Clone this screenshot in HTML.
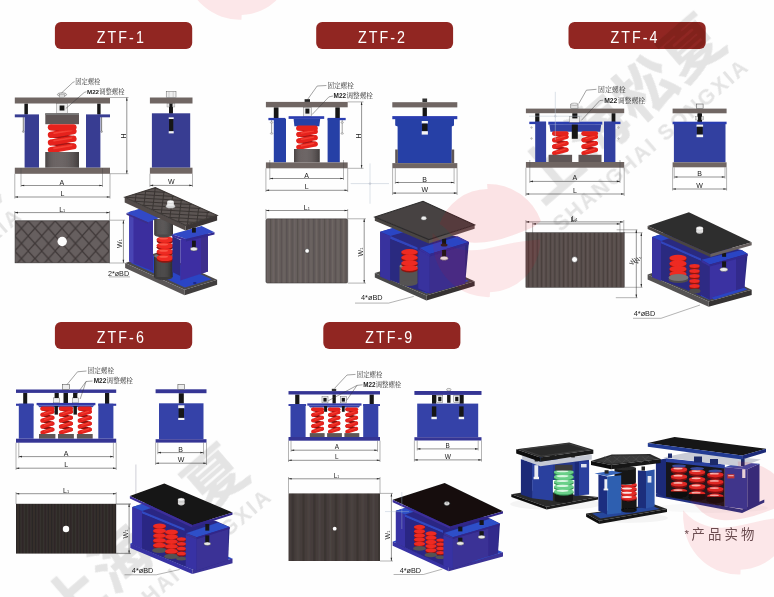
<!DOCTYPE html>
<html><head><meta charset="utf-8"><title>ZTF</title><style>html,body{margin:0;padding:0;background:#fff}svg{display:block}</style></head><body><svg width="774" height="597" viewBox="0 0 774 597" font-family="Liberation Sans, sans-serif">
<defs>
<pattern id="dia" width="13.5" height="15.1" patternUnits="userSpaceOnUse" patternTransform="translate(7.95 220.8)"><rect width="13.5" height="15.1" fill="#665e5e"/><path d="M0 7.55 L6.75 0 L13.5 7.55 L6.75 15.1 Z" fill="none" stroke="#3e3838" stroke-width="1.15"/></pattern>
<pattern id="st2" width="5.4" height="8" patternUnits="userSpaceOnUse"><rect width="5.4" height="8" fill="#665e5c"/><rect x="0" width="1.19" height="8" fill="#585150"/><rect x="2.70" width="0.97" height="8" fill="#6f6765"/></pattern>
<pattern id="st4" width="4.4" height="8" patternUnits="userSpaceOnUse"><rect width="4.4" height="8" fill="#574d4b"/><rect x="0" width="0.97" height="8" fill="#473e3c"/><rect x="2.20" width="0.79" height="8" fill="#645a58"/></pattern>
<pattern id="st6" width="3.2" height="8" patternUnits="userSpaceOnUse"><rect width="3.2" height="8" fill="#322c2a"/><rect x="0" width="0.70" height="8" fill="#2a2523"/><rect x="1.60" width="0.58" height="8" fill="#393230"/></pattern>
<pattern id="st9" width="10.8" height="8" patternUnits="userSpaceOnUse"><rect width="10.8" height="8" fill="#453d3b"/><rect x="0" width="2.38" height="8" fill="#3b3432"/><rect x="5.40" width="1.94" height="8" fill="#4c4442"/></pattern>
<mask id="lm" maskUnits="userSpaceOnUse" x="-60" y="-60" width="120" height="120"><rect x="-60" y="-60" width="120" height="120" fill="#fff"/><path d="M51 -20 C30 -6 8 -5 -2.4 -3.3 C-12 -1 -20 4 -24 9 C-14 5 -4 4 4 3.5 C22 2 40 0 52 -4 Z" fill="#000"/></mask>
<filter id="soft" x="0" y="0" width="774" height="597" filterUnits="userSpaceOnUse"><feGaussianBlur stdDeviation="0.55"/></filter>
<clipPath id="c1top"><polygon points="124.7,197.2 155.3,187.6 217.1,215.3 185.5,225.4"/></clipPath><linearGradient id="cylg" x1="0" x2="1" y1="0" y2="0"><stop offset="0" stop-color="#000" stop-opacity="0.25"/><stop offset="0.35" stop-color="#fff" stop-opacity="0.08"/><stop offset="1" stop-color="#000" stop-opacity="0.3"/></linearGradient>
</defs>
<g filter="url(#soft)">
<rect x="-5" y="-5" width="784" height="607" fill="#fefefe"/>
<rect x="54.9" y="22.1" width="137.3" height="27" rx="6" fill="#912621"/>
<text transform="translate(121.35 42.5) scale(0.85 1)" font-size="16.8" fill="#fff" text-anchor="middle" letter-spacing="2.4">ZTF-1</text>
<rect x="316.2" y="22.1" width="136.9" height="27" rx="6" fill="#912621"/>
<text transform="translate(382.45 42.5) scale(0.85 1)" font-size="16.8" fill="#fff" text-anchor="middle" letter-spacing="2.4">ZTF-2</text>
<rect x="568.5" y="22.1" width="137.2" height="27" rx="6" fill="#912621"/>
<text transform="translate(634.9 42.5) scale(0.85 1)" font-size="16.8" fill="#fff" text-anchor="middle" letter-spacing="2.4">ZTF-4</text>
<rect x="54.9" y="322.1" width="137.3" height="27" rx="6" fill="#912621"/>
<text transform="translate(121.35 342.5) scale(0.85 1)" font-size="16.8" fill="#fff" text-anchor="middle" letter-spacing="2.4">ZTF-6</text>
<rect x="323.3" y="322.1" width="137.1" height="27" rx="6" fill="#912621"/>
<text transform="translate(389.65 342.5) scale(0.85 1)" font-size="16.8" fill="#fff" text-anchor="middle" letter-spacing="2.4">ZTF-9</text>
<g style="mix-blend-mode:multiply">
<g transform="translate(563.6 229.9) rotate(-40.8)" fill="#e5e5e5">
<text x="0 62 124 186" y="-32" font-size="60" font-weight="bold" fill="#e5e5e5" stroke="#e5e5e5" stroke-width="0.6" stroke-linejoin="round" font-family="'Liberation Sans', 'Noto Sans CJK SC', sans-serif">上海松夏</text>
<text x="-4" y="0" font-size="21.5" font-weight="bold" textLength="249" lengthAdjust="spacing" fill="#e5e5e5">SHANGHAI SONGXIA</text>
</g>
<g transform="translate(86.6 659.9) rotate(-40.8)" fill="#e5e5e5">
<text x="0 62 124 186" y="-32" font-size="60" font-weight="bold" fill="#e5e5e5" stroke="#e5e5e5" stroke-width="0.6" stroke-linejoin="round" font-family="'Liberation Sans', 'Noto Sans CJK SC', sans-serif">上海松夏</text>
<text x="-4" y="0" font-size="21.5" font-weight="bold" textLength="249" lengthAdjust="spacing" fill="#e5e5e5">SHANGHAI SONGXIA</text>
</g>
<g transform="translate(-163.1 378.9) rotate(-40.8)" fill="#e5e5e5">
<text x="0 62 124 186" y="-32" font-size="60" font-weight="bold" fill="#e5e5e5" stroke="#e5e5e5" stroke-width="0.6" stroke-linejoin="round" font-family="'Liberation Sans', 'Noto Sans CJK SC', sans-serif">上海松夏</text>
<text x="-4" y="0" font-size="21.5" font-weight="bold" textLength="249" lengthAdjust="spacing" fill="#e5e5e5">SHANGHAI SONGXIA</text>
</g>
</g>
<rect x="24.4" y="103.5" width="3.5" height="11" fill="#151515" />
<rect x="97.2" y="103.5" width="3.4" height="11" fill="#151515" />
<line x1="23.3" y1="117" x2="23.3" y2="131" stroke="#444" stroke-width="0.7" />
<line x1="101.6" y1="117" x2="101.6" y2="131" stroke="#444" stroke-width="0.7" />
<circle cx="23.3" cy="131.6" r="0.9" fill="#bbb" stroke="#444" stroke-width="0.3"/>
<circle cx="101.6" cy="131.6" r="0.9" fill="#bbb" stroke="#444" stroke-width="0.3"/>
<rect x="14.8" y="114.4" width="12.2" height="2.9" fill="#383d92" />
<rect x="98.2" y="114.4" width="11.8" height="2.9" fill="#383d92" />
<rect x="24.6" y="114.4" width="14.4" height="53.3" fill="#383d92" />
<rect x="86" y="114.4" width="14.4" height="53.3" fill="#383d92" />
<rect x="56.5" y="103.5" width="11" height="9.8" fill="#eee" stroke="#666" stroke-width="0.4"/>
<rect x="59.6" y="105.5" width="4.8" height="5" fill="#151515" />
<rect x="45.3" y="113.3" width="33.7" height="10.9" fill="#5f5757" />
<rect x="45.3" y="113.3" width="33.7" height="1.7" fill="#777" />
<line x1="50.9" y1="127.3" x2="73.5" y2="131.1" stroke="#a51613" stroke-width="5.27" stroke-linecap="round"/>
<line x1="50.9" y1="134.9" x2="73.5" y2="138.7" stroke="#a51613" stroke-width="5.27" stroke-linecap="round"/>
<line x1="50.9" y1="142.5" x2="73.5" y2="146.3" stroke="#a51613" stroke-width="5.27" stroke-linecap="round"/>
<line x1="73.5" y1="131.1" x2="50.9" y2="134.9" stroke="#e6231c" stroke-width="6.2" stroke-linecap="round"/>
<line x1="71.64" y1="130.36" x2="54" y2="133.16" stroke="#ff5a4a" stroke-width="1.55" stroke-linecap="round" opacity="0.55"/>
<line x1="73.5" y1="138.7" x2="50.9" y2="142.5" stroke="#e6231c" stroke-width="6.2" stroke-linecap="round"/>
<line x1="71.64" y1="137.96" x2="54" y2="140.76" stroke="#ff5a4a" stroke-width="1.55" stroke-linecap="round" opacity="0.55"/>
<line x1="73.5" y1="146.3" x2="50.9" y2="150.1" stroke="#e6231c" stroke-width="6.2" stroke-linecap="round"/>
<line x1="71.64" y1="145.56" x2="54" y2="148.36" stroke="#ff5a4a" stroke-width="1.55" stroke-linecap="round" opacity="0.55"/>
<line x1="73.5" y1="127.3" x2="50.9" y2="127.3" stroke="#e6231c" stroke-width="6.2" stroke-linecap="round"/>
<rect x="45.3" y="152" width="33.7" height="15.7" fill="#5f5757" />
<rect x="45.3" y="152" width="33.7" height="15.7" fill="url(#cylg)"/>
<rect x="14.8" y="97.5" width="95.2" height="6" fill="#6f6664" />
<rect x="14.8" y="167.7" width="95.2" height="6.1" fill="#6f6664" />
<ellipse cx="62" cy="94.6" rx="4.6" ry="1.8" fill="#eee" stroke="#444" stroke-width="0.5"/>
<rect x="59.5" y="94.8" width="5" height="2.7" fill="#ddd" stroke="#555" stroke-width="0.3"/>
<polyline points="61.5,93 72.9,82.4 74.6,81.7" fill="none" stroke="#333" stroke-width="0.45" />
<polyline points="65.8,108.5 84.2,92.5 86.4,91.7" fill="none" stroke="#333" stroke-width="0.45" />
<text x="75.2" y="83.97" font-size="6.3" fill="#3a3a3a" font-family="'Liberation Serif', 'Noto Serif CJK SC', serif">固定螺栓</text>
<text x="87" y="93.97" font-size="6.1739999999999995" fill="#222" text-anchor="start" font-weight="bold">M22</text>
<text x="99.28" y="93.97" font-size="6.3" fill="#3a3a3a" font-family="'Liberation Serif', 'Noto Serif CJK SC', serif">调整螺栓</text>
<line x1="110" y1="97.5" x2="128.5" y2="97.5" stroke="#444" stroke-width="0.4" />
<line x1="110" y1="173.7" x2="128.5" y2="173.7" stroke="#444" stroke-width="0.4" />
<line x1="126.8" y1="97.5" x2="126.8" y2="173.7" stroke="#2a2a2a" stroke-width="0.5" />
<polygon points="126.8,97.5 126,100.7 127.6,100.7" fill="#2a2a2a" />
<polygon points="126.8,173.7 126,170.5 127.6,170.5" fill="#2a2a2a" />
<text x="125.7" y="136" font-size="7" fill="#222" text-anchor="middle" transform="rotate(-90 125.7 136)">H</text>
<line x1="21" y1="168" x2="21" y2="187" stroke="#444" stroke-width="0.4" />
<line x1="102.5" y1="168" x2="102.5" y2="187" stroke="#444" stroke-width="0.4" />
<line x1="21" y1="185.5" x2="102.5" y2="185.5" stroke="#2a2a2a" stroke-width="0.5" />
<polygon points="21,185.5 24.2,184.7 24.2,186.3" fill="#2a2a2a" />
<polygon points="102.5,185.5 99.3,184.7 99.3,186.3" fill="#2a2a2a" />
<text x="61.75" y="184.5" font-size="7" fill="#222" text-anchor="middle" >A</text>
<line x1="14.8" y1="173.8" x2="14.8" y2="198.6" stroke="#444" stroke-width="0.4" />
<line x1="110" y1="173.8" x2="110" y2="198.6" stroke="#444" stroke-width="0.4" />
<line x1="14.8" y1="197" x2="110" y2="197" stroke="#2a2a2a" stroke-width="0.5" />
<polygon points="14.8,197 18,196.2 18,197.8" fill="#2a2a2a" />
<polygon points="110,197 106.8,196.2 106.8,197.8" fill="#2a2a2a" />
<text x="62.4" y="196" font-size="7" fill="#222" text-anchor="middle" >L</text>
<line x1="14.8" y1="211" x2="14.8" y2="220.2" stroke="#444" stroke-width="0.4" />
<line x1="109.6" y1="211" x2="109.6" y2="220.2" stroke="#444" stroke-width="0.4" />
<line x1="14.8" y1="212.6" x2="109.6" y2="212.6" stroke="#2a2a2a" stroke-width="0.5" />
<polygon points="14.8,212.6 18,211.8 18,213.4" fill="#2a2a2a" />
<polygon points="109.6,212.6 106.4,211.8 106.4,213.4" fill="#2a2a2a" />
<text x="62.2" y="211.6" font-size="7" fill="#222" text-anchor="middle" >L<tspan font-size="3.8500000000000005">1</tspan></text>
<rect x="15.1" y="220.8" width="94.2" height="42" fill="url(#dia)" stroke="#3a3636" stroke-width="0.7"/>
<circle cx="62.2" cy="241.5" r="4.7" fill="#fdfdfd" />
<line x1="109.2" y1="220.2" x2="125" y2="220.2" stroke="#444" stroke-width="0.4" />
<line x1="109.2" y1="263" x2="125" y2="263" stroke="#444" stroke-width="0.4" />
<line x1="123.4" y1="220.2" x2="123.4" y2="263" stroke="#2a2a2a" stroke-width="0.5" />
<polygon points="123.4,220.2 122.6,223.4 124.2,223.4" fill="#2a2a2a" />
<polygon points="123.4,263 122.6,259.8 124.2,259.8" fill="#2a2a2a" />
<text x="122.3" y="243.5" font-size="7" fill="#222" text-anchor="middle" transform="rotate(-90 122.3 243.5)">W<tspan font-size="3.8500000000000005">1</tspan></text>
<text x="118.5" y="276" font-size="7.2" fill="#222" text-anchor="middle" >2*øBD</text>
<line x1="109" y1="276.9" x2="130" y2="276.9" stroke="#444" stroke-width="0.4" />
<rect x="169" y="103.5" width="3.9" height="10.1" fill="#151515" />
<rect x="167" y="103.8" width="7.9" height="3.2" fill="#e6e6e6" stroke="#666" stroke-width="0.3"/>
<rect x="169.4" y="103.5" width="3.1" height="10.1" fill="#151515" />
<rect x="151.9" y="113.3" width="38.3" height="54.4" fill="#383d92" />
<rect x="168.7" y="117.3" width="5" height="1.7" fill="#f4f4f4" />
<rect x="169.1" y="119" width="4.2" height="12.2" fill="#151515" />
<rect x="168.7" y="131.2" width="5" height="2.2" fill="#f4f4f4" />
<rect x="149.9" y="97.5" width="42.6" height="6" fill="#6f6664" />
<rect x="149.9" y="167.7" width="42.6" height="6" fill="#6f6664" />
<rect x="166.2" y="91.6" width="9.8" height="5.9" fill="#efefef" stroke="#555" stroke-width="0.45"/>
<line x1="169" y1="91.6" x2="169" y2="97.5" stroke="#777" stroke-width="0.3" />
<line x1="173.2" y1="91.6" x2="173.2" y2="97.5" stroke="#777" stroke-width="0.3" />
<line x1="149.9" y1="173.7" x2="149.9" y2="187" stroke="#444" stroke-width="0.4" />
<line x1="192.5" y1="173.7" x2="192.5" y2="187" stroke="#444" stroke-width="0.4" />
<line x1="149.9" y1="185.4" x2="192.5" y2="185.4" stroke="#2a2a2a" stroke-width="0.5" />
<polygon points="149.9,185.4 153.1,184.6 153.1,186.2" fill="#2a2a2a" />
<polygon points="192.5,185.4 189.3,184.6 189.3,186.2" fill="#2a2a2a" />
<text x="171.2" y="184.4" font-size="7" fill="#222" text-anchor="middle" >W</text>
<polygon points="125.1,262.9 157.5,252.5 217.1,279.7 184.7,289.7" fill="#4c4949" />
<polygon points="130.5,262.8 157.3,254.4 211.6,279.3 184.9,287.4" fill="#2a44c4" />
<polygon points="125.1,262.9 184.7,289.7 184.7,295.3 125.1,268" fill="#5a5757" />
<polygon points="184.7,289.7 217.1,279.7 217.1,284.7 184.7,295.3" fill="#403e3e" />
<polygon points="131.5,211 153,220 153,271 131.5,262.5" fill="#3a2e9e" />
<polygon points="129,212 133.5,210.6 133.5,263.4 129,261.6" fill="#4a44b4" />
<polygon points="126.5,213 140,208.5 160.5,217.5 148,222.3" fill="#304ac6" />
<polygon points="126.5,213 148,222.3 148,224 126.5,214.7" fill="#3c2f8a" />
<rect x="154" y="255" width="18.6" height="22" fill="#3c3a3a" />
<ellipse cx="163.3" cy="277" rx="9.3" ry="3" fill="#3c3a3a" />
<rect x="154" y="255" width="18.6" height="22" fill="url(#cylg)"/>
<ellipse cx="163.3" cy="256" rx="9.3" ry="2.6" fill="#777474" />
<ellipse cx="165" cy="241.1" rx="8.4" ry="3.3" fill="#8e1410" />
<ellipse cx="165" cy="239.5" rx="8.4" ry="3.3" fill="#ee2a20" />
<ellipse cx="163.5" cy="238.5" rx="4.5" ry="1" fill="#ff6a58" opacity="0.7"/>
<ellipse cx="165" cy="247.2" rx="8.4" ry="3.3" fill="#8e1410" />
<ellipse cx="165" cy="245.6" rx="8.4" ry="3.3" fill="#ee2a20" />
<ellipse cx="163.5" cy="244.6" rx="4.5" ry="1" fill="#ff6a58" opacity="0.7"/>
<ellipse cx="165" cy="253.3" rx="8.4" ry="3.3" fill="#8e1410" />
<ellipse cx="165" cy="251.7" rx="8.4" ry="3.3" fill="#ee2a20" />
<ellipse cx="163.5" cy="250.7" rx="4.5" ry="1" fill="#ff6a58" opacity="0.7"/>
<ellipse cx="165" cy="259.4" rx="8.4" ry="3.3" fill="#8e1410" />
<ellipse cx="165" cy="257.8" rx="8.4" ry="3.3" fill="#ee2a20" />
<ellipse cx="163.5" cy="256.8" rx="4.5" ry="1" fill="#ff6a58" opacity="0.7"/>
<rect x="154.2" y="219" width="18.8" height="15.5" fill="#4b4848" />
<ellipse cx="163.6" cy="234.5" rx="9.4" ry="3" fill="#4b4848" />
<rect x="154.2" y="219" width="18.8" height="15.5" fill="url(#cylg)"/>
<polygon points="172.4,236 180.3,240 180.3,276 172.4,272" fill="#2f2a84" />
<polygon points="180.3,240 208,231.5 208,271.5 180.3,280.5" fill="#3c2fa2" />
<polygon points="201,233.6 208,231.5 208,271.5 201,273.8" fill="#3d2d8c" />
<polygon points="171.9,234.3 201.6,225.9 214.5,232.3 186.1,239.1" fill="#304ac6" />
<polygon points="171.9,234.3 186.1,239.1 186.1,241.4 171.9,236.6" fill="#3a2e9e" />
<polygon points="186.1,239.1 214.5,232.3 214.5,234.5 186.1,241.4" fill="#33298f" />
<line x1="193.9" y1="227.4" x2="193.9" y2="232.6" stroke="#151515" stroke-width="3.8" />
<line x1="193.9" y1="240.6" x2="193.9" y2="247.6" stroke="#151515" stroke-width="3.8" />
<ellipse cx="193.9" cy="249" rx="3.6" ry="1.9" fill="#ececec" stroke="#333" stroke-width="0.4"/>
<ellipse cx="194.8" cy="283" rx="1.8" ry="0.9" fill="#1a2a8a" />
<polygon points="124.7,197.2 155.3,187.6 217.1,215.3 185.5,225.4" fill="#5c5553" />
<polygon points="124.7,197.2 185.5,225.4 185.5,230.6 124.7,202.6" fill="#524c4a" />
<polygon points="185.5,225.4 217.1,215.3 217.1,220.4 185.5,230.6" fill="#3a3634" />
<g clip-path="url(#c1top)">
<line x1="89.96" y1="181.09" x2="148.35" y2="184.38" stroke="#3a3533" stroke-width="1.0"/>
<line x1="120.56" y1="171.49" x2="117.75" y2="193.98" stroke="#3a3533" stroke-width="1.0"/>
<line x1="98.64" y1="185.11" x2="157.04" y2="188.41" stroke="#3a3533" stroke-width="1.0"/>
<line x1="129.24" y1="175.51" x2="126.44" y2="198.01" stroke="#3a3533" stroke-width="1.0"/>
<line x1="107.33" y1="189.14" x2="165.72" y2="192.43" stroke="#3a3533" stroke-width="1.0"/>
<line x1="137.93" y1="179.54" x2="135.12" y2="202.03" stroke="#3a3533" stroke-width="1.0"/>
<line x1="116.01" y1="193.17" x2="174.41" y2="196.46" stroke="#3a3533" stroke-width="1.0"/>
<line x1="146.61" y1="183.57" x2="143.81" y2="206.06" stroke="#3a3533" stroke-width="1.0"/>
<line x1="124.7" y1="197.2" x2="183.09" y2="200.49" stroke="#3a3533" stroke-width="1.0"/>
<line x1="155.3" y1="187.6" x2="152.49" y2="210.09" stroke="#3a3533" stroke-width="1.0"/>
<line x1="133.39" y1="201.23" x2="191.78" y2="204.52" stroke="#3a3533" stroke-width="1.0"/>
<line x1="163.99" y1="191.63" x2="161.18" y2="214.12" stroke="#3a3533" stroke-width="1.0"/>
<line x1="142.07" y1="205.26" x2="200.47" y2="208.55" stroke="#3a3533" stroke-width="1.0"/>
<line x1="172.67" y1="195.66" x2="169.87" y2="218.15" stroke="#3a3533" stroke-width="1.0"/>
<line x1="150.76" y1="209.29" x2="209.15" y2="212.58" stroke="#3a3533" stroke-width="1.0"/>
<line x1="181.36" y1="199.69" x2="178.55" y2="222.18" stroke="#3a3533" stroke-width="1.0"/>
<line x1="159.44" y1="213.31" x2="217.84" y2="216.61" stroke="#3a3533" stroke-width="1.0"/>
<line x1="190.04" y1="203.71" x2="187.24" y2="226.21" stroke="#3a3533" stroke-width="1.0"/>
<line x1="168.13" y1="217.34" x2="226.52" y2="220.63" stroke="#3a3533" stroke-width="1.0"/>
<line x1="198.73" y1="207.74" x2="195.92" y2="230.23" stroke="#3a3533" stroke-width="1.0"/>
<line x1="176.81" y1="221.37" x2="235.21" y2="224.66" stroke="#3a3533" stroke-width="1.0"/>
<line x1="207.41" y1="211.77" x2="204.61" y2="234.26" stroke="#3a3533" stroke-width="1.0"/>
<line x1="185.5" y1="225.4" x2="243.89" y2="228.69" stroke="#3a3533" stroke-width="1.0"/>
<line x1="216.1" y1="215.8" x2="213.29" y2="238.29" stroke="#3a3533" stroke-width="1.0"/>
</g>
<polygon points="124.7,197.2 155.3,187.6 217.1,215.3 185.5,225.4" fill="none" stroke="#3f3a38" stroke-width="1.2"/>
<ellipse cx="170.5" cy="206.2" rx="4.6" ry="2.1" fill="#d8d8d8" stroke="#777" stroke-width="0.3"/>
<rect x="167.2" y="201.8" width="6.6" height="4" fill="#ececec" />
<ellipse cx="170.5" cy="201.8" rx="3.3" ry="1.6" fill="#f8f8f8" stroke="#999" stroke-width="0.3"/>
<rect x="273.8" y="107.3" width="4.7" height="11.2" fill="#151515" />
<rect x="335.3" y="107.3" width="4.5" height="11.2" fill="#151515" />
<line x1="271.6" y1="120" x2="271.6" y2="134" stroke="#666" stroke-width="0.6" />
<ellipse cx="271.6" cy="122.5" rx="1.3" ry="0.8" fill="#ddd" stroke="#555" stroke-width="0.3"/>
<ellipse cx="271.6" cy="133.5" rx="1.3" ry="0.8" fill="#ddd" stroke="#555" stroke-width="0.3"/>
<line x1="342.2" y1="120" x2="342.2" y2="134" stroke="#666" stroke-width="0.6" />
<ellipse cx="342.2" cy="122.5" rx="1.3" ry="0.8" fill="#ddd" stroke="#555" stroke-width="0.3"/>
<ellipse cx="342.2" cy="133.5" rx="1.3" ry="0.8" fill="#ddd" stroke="#555" stroke-width="0.3"/>
<rect x="268.4" y="117.9" width="16.8" height="2.3" fill="#2c3cb0" />
<rect x="327.6" y="117.9" width="18.1" height="2.3" fill="#2c3cb0" />
<rect x="273.8" y="118.7" width="12.2" height="43.7" fill="#2840a6" />
<rect x="327.6" y="118.7" width="12.2" height="43.7" fill="#2840a6" />
<rect x="303.2" y="107.3" width="8.4" height="8.9" fill="#eee" stroke="#666" stroke-width="0.4"/>
<rect x="305.4" y="108.6" width="4" height="5" fill="#151515" />
<rect x="288.6" y="116.2" width="35.6" height="2.7" fill="#2c3cb0" />
<polygon points="293.6,118.7 320.2,118.7 319.3,126.3 294.4,126.3" fill="#2840a6" />
<line x1="298.8" y1="128.2" x2="315.2" y2="131.37" stroke="#a51613" stroke-width="4.42" stroke-linecap="round"/>
<line x1="298.8" y1="134.53" x2="315.2" y2="137.7" stroke="#a51613" stroke-width="4.42" stroke-linecap="round"/>
<line x1="298.8" y1="140.87" x2="315.2" y2="144.03" stroke="#a51613" stroke-width="4.42" stroke-linecap="round"/>
<line x1="315.2" y1="131.37" x2="298.8" y2="134.53" stroke="#e6231c" stroke-width="5.2" stroke-linecap="round"/>
<line x1="313.64" y1="130.74" x2="301.4" y2="133.08" stroke="#ff5a4a" stroke-width="1.3" stroke-linecap="round" opacity="0.55"/>
<line x1="315.2" y1="137.7" x2="298.8" y2="140.87" stroke="#e6231c" stroke-width="5.2" stroke-linecap="round"/>
<line x1="313.64" y1="137.08" x2="301.4" y2="139.41" stroke="#ff5a4a" stroke-width="1.3" stroke-linecap="round" opacity="0.55"/>
<line x1="315.2" y1="144.03" x2="298.8" y2="147.2" stroke="#e6231c" stroke-width="5.2" stroke-linecap="round"/>
<line x1="313.64" y1="143.41" x2="301.4" y2="145.74" stroke="#ff5a4a" stroke-width="1.3" stroke-linecap="round" opacity="0.55"/>
<line x1="315.2" y1="128.2" x2="298.8" y2="128.2" stroke="#e6231c" stroke-width="5.2" stroke-linecap="round"/>
<rect x="294" y="149" width="25.7" height="13.4" fill="#5f5757" />
<rect x="294" y="149" width="25.7" height="13.4" fill="url(#cylg)"/>
<rect x="265.9" y="101.9" width="81.8" height="5.4" fill="#6f6664" />
<rect x="265.9" y="162.4" width="81.8" height="5.9" fill="#6f6664" />
<rect x="304.6" y="99.2" width="5.4" height="2.7" fill="#222" />
<polyline points="307.2,100 317.2,86 326.4,85.5" fill="none" stroke="#333" stroke-width="0.45" />
<polyline points="312.1,114.5 328.9,96.9 333,96" fill="none" stroke="#333" stroke-width="0.45" />
<text x="327.4" y="87.88" font-size="6.6" fill="#3a3a3a" font-family="'Liberation Serif', 'Noto Serif CJK SC', serif">固定螺栓</text>
<text x="333.6" y="98.38" font-size="6.468" fill="#222" text-anchor="start" font-weight="bold">M22</text>
<text x="346.47" y="98.38" font-size="6.6" fill="#3a3a3a" font-family="'Liberation Serif', 'Noto Serif CJK SC', serif">调整螺栓</text>
<line x1="347.7" y1="101.9" x2="363.5" y2="101.9" stroke="#444" stroke-width="0.4" />
<line x1="347.7" y1="168.3" x2="363.5" y2="168.3" stroke="#444" stroke-width="0.4" />
<line x1="361.6" y1="101.9" x2="361.6" y2="168.3" stroke="#2a2a2a" stroke-width="0.5" />
<polygon points="361.6,101.9 360.8,105.1 362.4,105.1" fill="#2a2a2a" />
<polygon points="361.6,168.3 360.8,165.1 362.4,165.1" fill="#2a2a2a" />
<text x="360.5" y="136" font-size="7" fill="#222" text-anchor="middle" transform="rotate(-90 360.5 136)">H</text>
<line x1="269.8" y1="160" x2="269.8" y2="180" stroke="#444" stroke-width="0.4" />
<line x1="343.5" y1="160" x2="343.5" y2="180" stroke="#444" stroke-width="0.4" />
<line x1="269.8" y1="178.5" x2="343.5" y2="178.5" stroke="#2a2a2a" stroke-width="0.5" />
<polygon points="269.8,178.5 273,177.7 273,179.3" fill="#2a2a2a" />
<polygon points="343.5,178.5 340.3,177.7 340.3,179.3" fill="#2a2a2a" />
<text x="306.65" y="177.5" font-size="7" fill="#222" text-anchor="middle" >A</text>
<line x1="265.9" y1="168.3" x2="265.9" y2="192" stroke="#444" stroke-width="0.4" />
<line x1="347.7" y1="168.3" x2="347.7" y2="192" stroke="#444" stroke-width="0.4" />
<line x1="265.9" y1="190.3" x2="347.7" y2="190.3" stroke="#2a2a2a" stroke-width="0.5" />
<polygon points="265.9,190.3 269.1,189.5 269.1,191.1" fill="#2a2a2a" />
<polygon points="347.7,190.3 344.5,189.5 344.5,191.1" fill="#2a2a2a" />
<text x="306.8" y="189.3" font-size="7" fill="#222" text-anchor="middle" >L</text>
<line x1="370" y1="163.4" x2="370" y2="203.7" stroke="#b8c4d0" stroke-width="0.5" />
<line x1="350.7" y1="183.6" x2="389" y2="183.6" stroke="#b8c4d0" stroke-width="0.5" />
<circle cx="370" cy="183.6" r="0.9" fill="none" stroke="#99a" stroke-width="0.3"/>
<line x1="265.9" y1="209" x2="265.9" y2="219" stroke="#444" stroke-width="0.4" />
<line x1="347.7" y1="209" x2="347.7" y2="219" stroke="#444" stroke-width="0.4" />
<line x1="265.9" y1="210.5" x2="347.7" y2="210.5" stroke="#2a2a2a" stroke-width="0.5" />
<polygon points="265.9,210.5 269.1,209.7 269.1,211.3" fill="#2a2a2a" />
<polygon points="347.7,210.5 344.5,209.7 344.5,211.3" fill="#2a2a2a" />
<text x="306.8" y="209.5" font-size="7" fill="#222" text-anchor="middle" >L<tspan font-size="3.8500000000000005">1</tspan></text>
<rect x="265.9" y="218.8" width="81.8" height="64.3" rx="1.6" fill="url(#st2)" stroke="#353333" stroke-width="0.5"/>
<circle cx="307.1" cy="250.9" r="2.3" fill="#fdfdfd" stroke="#2a2828" stroke-width="0.6"/>
<line x1="347.7" y1="218.8" x2="366" y2="218.8" stroke="#444" stroke-width="0.4" />
<line x1="347.7" y1="283.1" x2="366" y2="283.1" stroke="#444" stroke-width="0.4" />
<line x1="364.2" y1="218.8" x2="364.2" y2="283.1" stroke="#2a2a2a" stroke-width="0.5" />
<polygon points="364.2,218.8 363.4,222 365,222" fill="#2a2a2a" />
<polygon points="364.2,283.1 363.4,279.9 365,279.9" fill="#2a2a2a" />
<text x="363.1" y="252" font-size="7" fill="#222" text-anchor="middle" transform="rotate(-90 363.1 252)">W<tspan font-size="3.8500000000000005">1</tspan></text>
<rect x="422.4" y="98.5" width="4.7" height="3.7" fill="#333" />
<rect x="422.6" y="107.4" width="4.3" height="9.6" fill="#151515" />
<rect x="392.3" y="116.1" width="65" height="3.1" fill="#2c3cb0" />
<polygon points="395.2,119 454,119 454,125.5 451.8,126.5 451.8,163.1 397.6,163.1 397.6,126.5 395.2,125.5" fill="#2840a6" />
<rect x="395.2" y="149.5" width="2.6" height="13.6" fill="#5f5757" />
<rect x="451.6" y="149.5" width="2.6" height="13.6" fill="#5f5757" />
<rect x="421.7" y="121" width="6.2" height="2.6" fill="#f4f4f4" />
<rect x="422.1" y="123.6" width="5.4" height="7.6" fill="#151515" />
<rect x="421.7" y="131.2" width="6.2" height="3.4" fill="#f4f4f4" />
<rect x="392.3" y="102.2" width="65" height="5.2" fill="#6f6664" />
<rect x="392.3" y="163.1" width="65" height="5.1" fill="#6f6664" />
<line x1="395.3" y1="168.2" x2="395.3" y2="184" stroke="#444" stroke-width="0.4" />
<line x1="454.1" y1="168.2" x2="454.1" y2="184" stroke="#444" stroke-width="0.4" />
<line x1="395.3" y1="182.5" x2="454.1" y2="182.5" stroke="#2a2a2a" stroke-width="0.5" />
<polygon points="395.3,182.5 398.5,181.7 398.5,183.3" fill="#2a2a2a" />
<polygon points="454.1,182.5 450.9,181.7 450.9,183.3" fill="#2a2a2a" />
<text x="424.7" y="181.5" font-size="7" fill="#222" text-anchor="middle" >B</text>
<line x1="392.6" y1="168.2" x2="392.6" y2="195" stroke="#444" stroke-width="0.4" />
<line x1="457.1" y1="168.2" x2="457.1" y2="195" stroke="#444" stroke-width="0.4" />
<line x1="392.6" y1="193.1" x2="457.1" y2="193.1" stroke="#2a2a2a" stroke-width="0.5" />
<polygon points="392.6,193.1 395.8,192.3 395.8,193.9" fill="#2a2a2a" />
<polygon points="457.1,193.1 453.9,192.3 453.9,193.9" fill="#2a2a2a" />
<text x="424.85" y="192.1" font-size="7" fill="#222" text-anchor="middle" >W</text>
<polygon points="374.8,272.9 423.5,258 474.6,281.3 426.4,295.6" fill="#4a4848" />
<polygon points="380.4,272.8 423.3,259.8 469,281 426.6,293.4" fill="#2a44c4" />
<polygon points="374.8,272.9 426.4,295.6 426.4,300.4 374.8,277.6" fill="#4a4848" />
<polygon points="426.4,295.6 474.6,281.3 474.6,286 426.4,300.4" fill="#353333" />
<polygon points="380.2,231.8 398,226.5 457.9,236.5 468.9,242 465.2,283.5 429.8,293.5 417.5,290 380.2,276.5" fill="#2c2a80" />
<polygon points="380.2,231.8 390.3,236 390.3,281 380.2,276.5" fill="#38309e" />
<polygon points="380.2,231.8 398,226.5 408,231 390.3,236" fill="#2b45c4" />
<polygon points="390.3,236 417.5,247.5 417.5,250 390.3,239" fill="#3044bc" />
<polygon points="390.3,239 417.5,250 417.5,290 390.3,279" fill="#2c2a80" />
<rect x="399.5" y="266" width="18" height="17" fill="#555252" />
<ellipse cx="408.5" cy="283" rx="9" ry="3" fill="#555252" />
<ellipse cx="408.5" cy="266" rx="9" ry="3" fill="#8a8787" />
<ellipse cx="409.5" cy="253.5" rx="8.3" ry="3" fill="#8e1410" />
<ellipse cx="409.5" cy="252" rx="8.3" ry="3" fill="#ee2a20" />
<ellipse cx="409.5" cy="259" rx="8.3" ry="3" fill="#8e1410" />
<ellipse cx="409.5" cy="257.5" rx="8.3" ry="3" fill="#ee2a20" />
<ellipse cx="409.5" cy="264.5" rx="8.3" ry="3" fill="#8e1410" />
<ellipse cx="409.5" cy="263" rx="8.3" ry="3" fill="#ee2a20" />
<ellipse cx="409.5" cy="269.5" rx="8.3" ry="3" fill="#8e1410" />
<ellipse cx="409.5" cy="268" rx="8.3" ry="3" fill="#ee2a20" />
<polygon points="418.3,249.5 429.8,255.5 429.8,293.5 418.3,288.5" fill="#38309e" />
<polygon points="429.8,255.5 465.2,244.6 465.2,283.5 429.8,293.5" fill="#3a2f8e" />
<polygon points="419.7,248 457.9,236.5 468.9,242 429.8,254" fill="#2b45c4" />
<polygon points="419.7,248 429.8,254 429.8,256.4 419.7,250.3" fill="#38309e" />
<polygon points="429.8,254 468.9,242 468.9,244.3 429.8,256.4" fill="#33298f" />
<line x1="444.1" y1="238.6" x2="444.1" y2="244.8" stroke="#151515" stroke-width="4" />
<ellipse cx="444.1" cy="245" rx="3.4" ry="1.5" fill="#2a2320" />
<line x1="444.1" y1="250" x2="444.1" y2="256.4" stroke="#151515" stroke-width="4" />
<ellipse cx="444.1" cy="258.2" rx="4" ry="2" fill="#ececec" stroke="#333" stroke-width="0.4"/>
<polygon points="374.8,217 423,201.3 474.6,225 428.9,239.6" fill="#464343" />
<polygon points="374.8,217 428.9,239.6 428.9,243.4 374.8,220.8" fill="#4a4543" />
<polygon points="428.9,239.6 474.6,225 474.6,228.8 428.9,243.4" fill="#5d5654" />
<polygon points="374.8,217 423,201.3 474.6,225 428.9,239.6" fill="none" stroke="#2e2c2c" stroke-width="1.1"/>
<ellipse cx="423.8" cy="218.2" rx="2.6" ry="1.9" fill="#eee" stroke="#888" stroke-width="0.4"/>
<text x="371.8" y="300.3" font-size="7.3" fill="#222" text-anchor="middle" >4*øBD</text>
<polyline points="355,303.1 388.6,303.1 413.8,296.4" fill="none" stroke="#444" stroke-width="0.4" />
<rect x="535.2" y="113.2" width="4.2" height="9" fill="#151515" />
<rect x="611.6" y="113.2" width="3.8" height="9" fill="#151515" />
<circle cx="531.5" cy="127.5" r="0.8" fill="#ddd" stroke="#555" stroke-width="0.3"/>
<circle cx="531.5" cy="138.5" r="0.8" fill="#ddd" stroke="#555" stroke-width="0.3"/>
<circle cx="618.5" cy="127.5" r="0.8" fill="#ddd" stroke="#555" stroke-width="0.3"/>
<circle cx="618.5" cy="138.5" r="0.8" fill="#ddd" stroke="#555" stroke-width="0.3"/>
<rect x="529.3" y="121.7" width="16.7" height="2.4" fill="#2c3cb0" />
<rect x="604" y="121.7" width="16.5" height="2.4" fill="#2c3cb0" />
<rect x="535.2" y="121.7" width="10.9" height="40.3" fill="#3040a0" />
<rect x="604" y="121.7" width="11.4" height="40.3" fill="#3040a0" />
<rect x="548.3" y="121.7" width="54" height="2.9" fill="#2c3cb0" />
<polygon points="549.4,124.6 601.2,124.6 600.2,131.8 550.4,131.8" fill="#3040a0" />
<line x1="554.3" y1="133.5" x2="566.4" y2="136.77" stroke="#a51613" stroke-width="3.9099999999999997" stroke-linecap="round"/>
<line x1="554.3" y1="140.03" x2="566.4" y2="143.3" stroke="#a51613" stroke-width="3.9099999999999997" stroke-linecap="round"/>
<line x1="554.3" y1="146.57" x2="566.4" y2="149.83" stroke="#a51613" stroke-width="3.9099999999999997" stroke-linecap="round"/>
<line x1="566.4" y1="136.77" x2="554.3" y2="140.03" stroke="#e6231c" stroke-width="4.6" stroke-linecap="round"/>
<line x1="565.02" y1="136.21" x2="556.6" y2="138.75" stroke="#ff5a4a" stroke-width="1.15" stroke-linecap="round" opacity="0.55"/>
<line x1="566.4" y1="143.3" x2="554.3" y2="146.57" stroke="#e6231c" stroke-width="4.6" stroke-linecap="round"/>
<line x1="565.02" y1="142.75" x2="556.6" y2="145.28" stroke="#ff5a4a" stroke-width="1.15" stroke-linecap="round" opacity="0.55"/>
<line x1="566.4" y1="149.83" x2="554.3" y2="153.1" stroke="#e6231c" stroke-width="4.6" stroke-linecap="round"/>
<line x1="565.02" y1="149.28" x2="556.6" y2="151.81" stroke="#ff5a4a" stroke-width="1.15" stroke-linecap="round" opacity="0.55"/>
<line x1="566.4" y1="133.5" x2="554.3" y2="133.5" stroke="#e6231c" stroke-width="4.6" stroke-linecap="round"/>
<line x1="583.6" y1="133.5" x2="595.8" y2="136.77" stroke="#a51613" stroke-width="3.9099999999999997" stroke-linecap="round"/>
<line x1="583.6" y1="140.03" x2="595.8" y2="143.3" stroke="#a51613" stroke-width="3.9099999999999997" stroke-linecap="round"/>
<line x1="583.6" y1="146.57" x2="595.8" y2="149.83" stroke="#a51613" stroke-width="3.9099999999999997" stroke-linecap="round"/>
<line x1="595.8" y1="136.77" x2="583.6" y2="140.03" stroke="#e6231c" stroke-width="4.6" stroke-linecap="round"/>
<line x1="594.42" y1="136.21" x2="585.9" y2="138.75" stroke="#ff5a4a" stroke-width="1.15" stroke-linecap="round" opacity="0.55"/>
<line x1="595.8" y1="143.3" x2="583.6" y2="146.57" stroke="#e6231c" stroke-width="4.6" stroke-linecap="round"/>
<line x1="594.42" y1="142.75" x2="585.9" y2="145.28" stroke="#ff5a4a" stroke-width="1.15" stroke-linecap="round" opacity="0.55"/>
<line x1="595.8" y1="149.83" x2="583.6" y2="153.1" stroke="#e6231c" stroke-width="4.6" stroke-linecap="round"/>
<line x1="594.42" y1="149.28" x2="585.9" y2="151.81" stroke="#ff5a4a" stroke-width="1.15" stroke-linecap="round" opacity="0.55"/>
<line x1="595.8" y1="133.5" x2="583.6" y2="133.5" stroke="#e6231c" stroke-width="4.6" stroke-linecap="round"/>
<rect x="548.6" y="154.8" width="23.5" height="7.2" fill="#5f5757" />
<rect x="578.5" y="154.8" width="23" height="7.2" fill="#5f5757" />
<rect x="569.8" y="116.4" width="9.4" height="5.8" fill="#eee" stroke="#777" stroke-width="0.4"/>
<rect x="572.3" y="113.2" width="5.1" height="5.2" fill="#151515" />
<rect x="571.8" y="124.6" width="6" height="14.2" fill="#151515" />
<rect x="525.9" y="108.6" width="98.3" height="4.6" fill="#6f6664" />
<rect x="525.9" y="162" width="98.3" height="5.7" fill="#6f6664" />
<rect x="570.8" y="104.2" width="7.2" height="4.4" fill="#e4e4e4" stroke="#555" stroke-width="0.5"/>
<ellipse cx="574.4" cy="104.2" rx="3.6" ry="1.1" fill="#f4f4f4" stroke="#555" stroke-width="0.4"/>
<line x1="555.3" y1="91.8" x2="555.3" y2="140" stroke="#b8c4d0" stroke-width="0.5" />
<line x1="529" y1="116.2" x2="582" y2="116.2" stroke="#b8c4d0" stroke-width="0.5" />
<circle cx="555.3" cy="116.2" r="0.9" fill="none" stroke="#99a" stroke-width="0.3"/>
<polyline points="578.8,103.6 586.4,90.2 596.5,89.3" fill="none" stroke="#333" stroke-width="0.45" />
<polyline points="581.3,120.4 599.8,100.6 603.2,100.2" fill="none" stroke="#333" stroke-width="0.45" />
<text x="598.1" y="91.78" font-size="6.9" fill="#3a3a3a" font-family="'Liberation Serif', 'Noto Serif CJK SC', serif">固定螺栓</text>
<text x="604.2" y="102.68" font-size="6.7620000000000005" fill="#222" text-anchor="start" font-weight="bold">M22</text>
<text x="617.66" y="102.68" font-size="6.9" fill="#3a3a3a" font-family="'Liberation Serif', 'Noto Serif CJK SC', serif">调整螺栓</text>
<line x1="529.8" y1="160" x2="529.8" y2="183" stroke="#444" stroke-width="0.4" />
<line x1="620" y1="160" x2="620" y2="183" stroke="#444" stroke-width="0.4" />
<line x1="529.8" y1="181.4" x2="620" y2="181.4" stroke="#2a2a2a" stroke-width="0.5" />
<polygon points="529.8,181.4 533,180.6 533,182.2" fill="#2a2a2a" />
<polygon points="620,181.4 616.8,180.6 616.8,182.2" fill="#2a2a2a" />
<text x="574.9" y="180.4" font-size="7" fill="#222" text-anchor="middle" >A</text>
<line x1="525.9" y1="167.7" x2="525.9" y2="196" stroke="#444" stroke-width="0.4" />
<line x1="624.2" y1="167.7" x2="624.2" y2="196" stroke="#444" stroke-width="0.4" />
<line x1="525.9" y1="194" x2="624.2" y2="194" stroke="#2a2a2a" stroke-width="0.5" />
<polygon points="525.9,194 529.1,193.2 529.1,194.8" fill="#2a2a2a" />
<polygon points="624.2,194 621,193.2 621,194.8" fill="#2a2a2a" />
<text x="575.05" y="193" font-size="7" fill="#222" text-anchor="middle" >L</text>
<line x1="525.9" y1="220" x2="525.9" y2="233" stroke="#444" stroke-width="0.4" />
<line x1="623.8" y1="220" x2="623.8" y2="233" stroke="#444" stroke-width="0.4" />
<line x1="525.9" y1="221.9" x2="623.3" y2="221.9" stroke="#2a2a2a" stroke-width="0.5" />
<polygon points="525.9,221.9 529.1,221.1 529.1,222.7" fill="#2a2a2a" />
<polygon points="623.3,221.9 620.1,221.1 620.1,222.7" fill="#2a2a2a" />
<text x="574.6" y="220.9" font-size="7" fill="#222" text-anchor="middle" >L<tspan font-size="3.8500000000000005">1</tspan></text>
<line x1="532.6" y1="222.5" x2="532.6" y2="233" stroke="#444" stroke-width="0.4" />
<line x1="620" y1="222.5" x2="620" y2="233" stroke="#444" stroke-width="0.4" />
<line x1="532.6" y1="223.9" x2="620" y2="223.9" stroke="#2a2a2a" stroke-width="0.5" />
<polygon points="532.6,223.9 535.8,223.1 535.8,224.7" fill="#2a2a2a" />
<polygon points="620,223.9 616.8,223.1 616.8,224.7" fill="#2a2a2a" />
<text x="573.5" y="221.8" font-size="6.5" fill="#222" text-anchor="middle" >L<tspan font-size="3.6">1</tspan></text>
<rect x="525.9" y="232.7" width="98.3" height="54.6" fill="url(#st4)" stroke="#2f2c2c" stroke-width="0.5"/>
<circle cx="574.6" cy="259.5" r="2.9" fill="#fdfdfd" stroke="#222" stroke-width="0.5"/>
<line x1="616.6" y1="229.8" x2="637.5" y2="229.8" stroke="#444" stroke-width="0.4" />
<line x1="624.2" y1="232.7" x2="642.5" y2="232.7" stroke="#444" stroke-width="0.4" />
<line x1="624.2" y1="287.3" x2="642.5" y2="287.3" stroke="#444" stroke-width="0.4" />
<line x1="615.8" y1="297.7" x2="637.5" y2="297.7" stroke="#444" stroke-width="0.4" />
<line x1="636.3" y1="229.8" x2="636.3" y2="297.7" stroke="#2a2a2a" stroke-width="0.5" />
<polygon points="636.3,229.8 635.5,233 637.1,233" fill="#2a2a2a" />
<polygon points="636.3,297.7 635.5,294.5 637.1,294.5" fill="#2a2a2a" />
<line x1="641.3" y1="232.7" x2="641.3" y2="287.3" stroke="#2a2a2a" stroke-width="0.5" />
<polygon points="641.3,232.7 640.5,235.9 642.1,235.9" fill="#2a2a2a" />
<polygon points="641.3,287.3 640.5,284.1 642.1,284.1" fill="#2a2a2a" />
<text x="634.6" y="262" font-size="6.3" fill="#222" text-anchor="middle" transform="rotate(-60 634.6 262)">W<tspan font-size="3.4650000000000003">1</tspan></text>
<text x="639.5" y="261" font-size="6.3" fill="#222" text-anchor="middle" transform="rotate(-60 639.5 261)">W<tspan font-size="3.4650000000000003">1</tspan></text>
<rect x="697.4" y="113.3" width="4.6" height="8.7" fill="#151515" />
<rect x="695.8" y="116.6" width="7.8" height="3.4" fill="#ddd" stroke="#555" stroke-width="0.3"/>
<rect x="698" y="113.3" width="3.4" height="8.7" fill="#151515" />
<rect x="672.6" y="121.7" width="54" height="2.5" fill="#2c3cb0" />
<rect x="673.9" y="124" width="51.6" height="38.3" fill="#3040a0" />
<rect x="696.5" y="124.6" width="6.6" height="2.2" fill="#f4f4f4" />
<rect x="696.9" y="126.8" width="5.8" height="7.8" fill="#151515" />
<rect x="696.5" y="134.6" width="6.6" height="2.6" fill="#f4f4f4" />
<rect x="672.6" y="108.6" width="54" height="4.7" fill="#6f6664" />
<rect x="672.6" y="162.3" width="54" height="5" fill="#6f6664" />
<rect x="696.4" y="104" width="6.7" height="4.6" fill="#ededed" stroke="#444" stroke-width="0.5"/>
<line x1="674.2" y1="167.3" x2="674.2" y2="178.6" stroke="#444" stroke-width="0.4" />
<line x1="725" y1="167.3" x2="725" y2="178.6" stroke="#444" stroke-width="0.4" />
<line x1="674.2" y1="177" x2="725" y2="177" stroke="#2a2a2a" stroke-width="0.5" />
<polygon points="674.2,177 677.4,176.2 677.4,177.8" fill="#2a2a2a" />
<polygon points="725,177 721.8,176.2 721.8,177.8" fill="#2a2a2a" />
<text x="699.6" y="176" font-size="7" fill="#222" text-anchor="middle" >B</text>
<line x1="672.6" y1="167.3" x2="672.6" y2="190.6" stroke="#444" stroke-width="0.4" />
<line x1="726.6" y1="167.3" x2="726.6" y2="190.6" stroke="#444" stroke-width="0.4" />
<line x1="672.6" y1="189" x2="726.6" y2="189" stroke="#2a2a2a" stroke-width="0.5" />
<polygon points="672.6,189 675.8,188.2 675.8,189.8" fill="#2a2a2a" />
<polygon points="726.6,189 723.4,188.2 723.4,189.8" fill="#2a2a2a" />
<text x="699.6" y="188" font-size="7" fill="#222" text-anchor="middle" >W</text>
<polygon points="647.6,274.5 690,261 751.7,289.8 708.6,301.5" fill="#4a4848" />
<polygon points="653,274.4 689.8,262.8 746.2,289.4 708.8,299.4" fill="#2a44c4" />
<polygon points="647.6,274.5 708.6,301.5 708.6,306.8 647.6,279.6" fill="#555252" />
<polygon points="708.6,301.5 751.7,289.8 751.7,295 708.6,306.8" fill="#353333" />
<polygon points="652,237 668,232 741.6,250.1 747.6,253.8 744.3,289 709.8,299.5 700.5,294.5 652,277" fill="#2c2a80" />
<polygon points="652,237 661,241 661,281 652,277" fill="#38309e" />
<polygon points="652,237 668,232 676,236 661,241" fill="#2b45c4" />
<polygon points="661,241 701,258.5 701,261 661,243.5" fill="#3044bc" />
<polygon points="661,243.5 701,261 701,296 661,279" fill="#2c2a80" />
<ellipse cx="678" cy="259.5" rx="8.6" ry="3.18" fill="#8e1410" />
<ellipse cx="678" cy="258" rx="8.6" ry="3.18" fill="#ee2a20" />
<ellipse cx="678" cy="265" rx="8.6" ry="3.18" fill="#8e1410" />
<ellipse cx="678" cy="263.5" rx="8.6" ry="3.18" fill="#ee2a20" />
<ellipse cx="678" cy="270.5" rx="8.6" ry="3.18" fill="#8e1410" />
<ellipse cx="678" cy="269" rx="8.6" ry="3.18" fill="#ee2a20" />
<ellipse cx="678" cy="275.5" rx="8.6" ry="3.18" fill="#8e1410" />
<ellipse cx="678" cy="274" rx="8.6" ry="3.18" fill="#ee2a20" />
<ellipse cx="694.5" cy="267.5" rx="5.2" ry="1.92" fill="#8e1410" />
<ellipse cx="694.5" cy="266" rx="5.2" ry="1.92" fill="#ee2a20" />
<ellipse cx="694.5" cy="272.5" rx="5.2" ry="1.92" fill="#8e1410" />
<ellipse cx="694.5" cy="271" rx="5.2" ry="1.92" fill="#ee2a20" />
<ellipse cx="694.5" cy="277.5" rx="5.2" ry="1.92" fill="#8e1410" />
<ellipse cx="694.5" cy="276" rx="5.2" ry="1.92" fill="#ee2a20" />
<ellipse cx="694.5" cy="282.5" rx="5.2" ry="1.92" fill="#8e1410" />
<ellipse cx="694.5" cy="281" rx="5.2" ry="1.92" fill="#ee2a20" />
<ellipse cx="694.5" cy="287.5" rx="5.2" ry="1.92" fill="#8e1410" />
<ellipse cx="694.5" cy="286" rx="5.2" ry="1.92" fill="#ee2a20" />
<ellipse cx="678.5" cy="279.5" rx="10" ry="3.6" fill="#4e4b4b" />
<ellipse cx="678.5" cy="277.5" rx="10" ry="3.6" fill="#777474" />
<ellipse cx="695" cy="291" rx="6" ry="2.6" fill="#4e4b4b" />
<polygon points="700.5,261 709.8,266 709.8,299.5 700.5,294.5" fill="#2f2a84" />
<polygon points="709.8,266 744.3,255.5 744.3,289 709.8,299.5" fill="#3a31a2" />
<polygon points="736,258 744.3,255.5 744.3,289 736,291.5" fill="#33298c" />
<polygon points="701.5,259.8 741.6,250.1 747.6,253.8 709.8,264.4" fill="#2b45c4" />
<polygon points="701.5,259.8 709.8,264.4 709.8,266.6 701.5,262" fill="#38309e" />
<polygon points="709.8,264.4 747.6,253.8 747.6,256 709.8,266.6" fill="#33298f" />
<polygon points="712,297.6 744.3,287.8 747.5,289.4 714,299.8" fill="#2b45c4" />
<line x1="724.1" y1="252.8" x2="724.1" y2="256.8" stroke="#151515" stroke-width="4" />
<line x1="724.1" y1="261.4" x2="724.1" y2="267.6" stroke="#151515" stroke-width="4" />
<ellipse cx="723.8" cy="269.5" rx="4" ry="2" fill="#ececec" stroke="#333" stroke-width="0.4"/>
<polygon points="647.6,226 688.9,212.2 751.7,242.2 710.4,253.9" fill="#2f2d2d" />
<polygon points="647.6,226 710.4,253.9 710.4,256.9 647.6,229" fill="#4a4543" />
<polygon points="710.4,253.9 751.7,242.2 751.7,245.2 710.4,256.9" fill="#67615f" />
<ellipse cx="699.7" cy="231.8" rx="3.4" ry="1.9" fill="#cfcfcf" />
<rect x="696.3" y="228.4" width="6.8" height="3.4" fill="#e6e6e6" />
<ellipse cx="699.7" cy="228.4" rx="3.4" ry="1.8" fill="#f6f6f6" stroke="#999" stroke-width="0.3"/>
<text x="644.5" y="315.6" font-size="7.3" fill="#222" text-anchor="middle" >4*øBD</text>
<polyline points="633,318.3 661,318.3 700,305" fill="none" stroke="#444" stroke-width="0.4" />
<rect x="23.2" y="392.8" width="4" height="11.2" fill="#151515" />
<rect x="105" y="392.8" width="4.2" height="11.2" fill="#151515" />
<rect x="16" y="403.7" width="17.6" height="2.1" fill="#3038a6" />
<rect x="98.3" y="403.7" width="17.9" height="2.1" fill="#3038a6" />
<rect x="18.8" y="403.7" width="14.8" height="35" fill="#3543a8" />
<rect x="98.3" y="403.7" width="15.1" height="35" fill="#3543a8" />
<rect x="53.7" y="397.9" width="6" height="5" fill="#f0f0f0" stroke="#555" stroke-width="0.4"/>
<rect x="72.2" y="397.9" width="6" height="5" fill="#f0f0f0" stroke="#555" stroke-width="0.4"/>
<rect x="54.6" y="392.8" width="4.2" height="5.2" fill="#151515" />
<rect x="73.1" y="392.8" width="4.2" height="5.2" fill="#151515" />
<rect x="63.5" y="392.8" width="4.5" height="10.2" fill="#151515" />
<rect x="36.6" y="402.9" width="58.8" height="2.3" fill="#3038a6" />
<polygon points="37.6,405.2 94.4,405.2 92.5,407.2 39.5,407.2" fill="#3543a8" />
<line x1="42.4" y1="408.7" x2="52.5" y2="411.68" stroke="#861210" stroke-width="3.57" stroke-linecap="round"/>
<line x1="42.4" y1="414.65" x2="52.5" y2="417.63" stroke="#861210" stroke-width="3.57" stroke-linecap="round"/>
<line x1="42.4" y1="420.6" x2="52.5" y2="423.58" stroke="#861210" stroke-width="3.57" stroke-linecap="round"/>
<line x1="42.4" y1="426.55" x2="52.5" y2="429.53" stroke="#861210" stroke-width="3.57" stroke-linecap="round"/>
<line x1="52.5" y1="411.68" x2="42.4" y2="414.65" stroke="#e6231c" stroke-width="4.2" stroke-linecap="round"/>
<line x1="51.24" y1="411.17" x2="44.5" y2="413.47" stroke="#ff5a4a" stroke-width="1.05" stroke-linecap="round" opacity="0.55"/>
<line x1="52.5" y1="417.63" x2="42.4" y2="420.6" stroke="#e6231c" stroke-width="4.2" stroke-linecap="round"/>
<line x1="51.24" y1="417.12" x2="44.5" y2="419.42" stroke="#ff5a4a" stroke-width="1.05" stroke-linecap="round" opacity="0.55"/>
<line x1="52.5" y1="423.58" x2="42.4" y2="426.55" stroke="#e6231c" stroke-width="4.2" stroke-linecap="round"/>
<line x1="51.24" y1="423.07" x2="44.5" y2="425.37" stroke="#ff5a4a" stroke-width="1.05" stroke-linecap="round" opacity="0.55"/>
<line x1="52.5" y1="429.53" x2="42.4" y2="432.5" stroke="#e6231c" stroke-width="4.2" stroke-linecap="round"/>
<line x1="51.24" y1="429.02" x2="44.5" y2="431.32" stroke="#ff5a4a" stroke-width="1.05" stroke-linecap="round" opacity="0.55"/>
<line x1="52.5" y1="408.7" x2="42.4" y2="408.7" stroke="#e6231c" stroke-width="4.2" stroke-linecap="round"/>
<line x1="60.9" y1="408.7" x2="71" y2="411.68" stroke="#861210" stroke-width="3.57" stroke-linecap="round"/>
<line x1="60.9" y1="414.65" x2="71" y2="417.63" stroke="#861210" stroke-width="3.57" stroke-linecap="round"/>
<line x1="60.9" y1="420.6" x2="71" y2="423.58" stroke="#861210" stroke-width="3.57" stroke-linecap="round"/>
<line x1="60.9" y1="426.55" x2="71" y2="429.53" stroke="#861210" stroke-width="3.57" stroke-linecap="round"/>
<line x1="71" y1="411.68" x2="60.9" y2="414.65" stroke="#e6231c" stroke-width="4.2" stroke-linecap="round"/>
<line x1="69.74" y1="411.17" x2="63" y2="413.47" stroke="#ff5a4a" stroke-width="1.05" stroke-linecap="round" opacity="0.55"/>
<line x1="71" y1="417.63" x2="60.9" y2="420.6" stroke="#e6231c" stroke-width="4.2" stroke-linecap="round"/>
<line x1="69.74" y1="417.12" x2="63" y2="419.42" stroke="#ff5a4a" stroke-width="1.05" stroke-linecap="round" opacity="0.55"/>
<line x1="71" y1="423.58" x2="60.9" y2="426.55" stroke="#e6231c" stroke-width="4.2" stroke-linecap="round"/>
<line x1="69.74" y1="423.07" x2="63" y2="425.37" stroke="#ff5a4a" stroke-width="1.05" stroke-linecap="round" opacity="0.55"/>
<line x1="71" y1="429.53" x2="60.9" y2="432.5" stroke="#e6231c" stroke-width="4.2" stroke-linecap="round"/>
<line x1="69.74" y1="429.02" x2="63" y2="431.32" stroke="#ff5a4a" stroke-width="1.05" stroke-linecap="round" opacity="0.55"/>
<line x1="71" y1="408.7" x2="60.9" y2="408.7" stroke="#e6231c" stroke-width="4.2" stroke-linecap="round"/>
<line x1="79.7" y1="408.7" x2="89.9" y2="411.68" stroke="#861210" stroke-width="3.57" stroke-linecap="round"/>
<line x1="79.7" y1="414.65" x2="89.9" y2="417.63" stroke="#861210" stroke-width="3.57" stroke-linecap="round"/>
<line x1="79.7" y1="420.6" x2="89.9" y2="423.58" stroke="#861210" stroke-width="3.57" stroke-linecap="round"/>
<line x1="79.7" y1="426.55" x2="89.9" y2="429.53" stroke="#861210" stroke-width="3.57" stroke-linecap="round"/>
<line x1="89.9" y1="411.68" x2="79.7" y2="414.65" stroke="#e6231c" stroke-width="4.2" stroke-linecap="round"/>
<line x1="88.64" y1="411.17" x2="81.8" y2="413.47" stroke="#ff5a4a" stroke-width="1.05" stroke-linecap="round" opacity="0.55"/>
<line x1="89.9" y1="417.63" x2="79.7" y2="420.6" stroke="#e6231c" stroke-width="4.2" stroke-linecap="round"/>
<line x1="88.64" y1="417.12" x2="81.8" y2="419.42" stroke="#ff5a4a" stroke-width="1.05" stroke-linecap="round" opacity="0.55"/>
<line x1="89.9" y1="423.58" x2="79.7" y2="426.55" stroke="#e6231c" stroke-width="4.2" stroke-linecap="round"/>
<line x1="88.64" y1="423.07" x2="81.8" y2="425.37" stroke="#ff5a4a" stroke-width="1.05" stroke-linecap="round" opacity="0.55"/>
<line x1="89.9" y1="429.53" x2="79.7" y2="432.5" stroke="#e6231c" stroke-width="4.2" stroke-linecap="round"/>
<line x1="88.64" y1="429.02" x2="81.8" y2="431.32" stroke="#ff5a4a" stroke-width="1.05" stroke-linecap="round" opacity="0.55"/>
<line x1="89.9" y1="408.7" x2="79.7" y2="408.7" stroke="#e6231c" stroke-width="4.2" stroke-linecap="round"/>
<rect x="54.6" y="406" width="3.3" height="8.6" fill="#151515" />
<rect x="73.5" y="406" width="3.4" height="8.6" fill="#151515" />
<rect x="39" y="434" width="16.4" height="4.7" fill="#5f5757" />
<rect x="58" y="434" width="15.9" height="4.7" fill="#5f5757" />
<rect x="76.9" y="434" width="15.8" height="4.7" fill="#5f5757" />
<rect x="16" y="389.5" width="100.2" height="3.4" fill="#343494" />
<rect x="16" y="438.7" width="100.2" height="4" fill="#343494" />
<rect x="62.5" y="384.6" width="7.2" height="4.9" fill="#ededed" stroke="#444" stroke-width="0.5"/>
<polyline points="67,384.6 77.5,371.8 86.5,371" fill="none" stroke="#333" stroke-width="0.45" />
<polyline points="75.6,396 86,381.5 92.5,381" fill="none" stroke="#333" stroke-width="0.45" />
<polyline points="80.2,399 86,381.5" fill="none" stroke="#333" stroke-width="0.45" />
<text x="87.7" y="373.38" font-size="6.6" fill="#3a3a3a" font-family="'Liberation Serif', 'Noto Serif CJK SC', serif">固定螺栓</text>
<text x="93.7" y="383.38" font-size="6.468" fill="#222" text-anchor="start" font-weight="bold">M22</text>
<text x="106.57" y="383.38" font-size="6.6" fill="#3a3a3a" font-family="'Liberation Serif', 'Noto Serif CJK SC', serif">调整螺栓</text>
<line x1="18.8" y1="442.7" x2="18.8" y2="458.2" stroke="#444" stroke-width="0.4" />
<line x1="113.4" y1="442.7" x2="113.4" y2="458.2" stroke="#444" stroke-width="0.4" />
<line x1="18.8" y1="456.6" x2="113.4" y2="456.6" stroke="#2a2a2a" stroke-width="0.5" />
<polygon points="18.8,456.6 22,455.8 22,457.4" fill="#2a2a2a" />
<polygon points="113.4,456.6 110.2,455.8 110.2,457.4" fill="#2a2a2a" />
<text x="66.1" y="455.6" font-size="7" fill="#222" text-anchor="middle" >A</text>
<line x1="16" y1="442.7" x2="16" y2="470" stroke="#444" stroke-width="0.4" />
<line x1="116.2" y1="442.7" x2="116.2" y2="470" stroke="#444" stroke-width="0.4" />
<line x1="16" y1="468.2" x2="116.2" y2="468.2" stroke="#2a2a2a" stroke-width="0.5" />
<polygon points="16,468.2 19.2,467.4 19.2,469" fill="#2a2a2a" />
<polygon points="116.2,468.2 113,467.4 113,469" fill="#2a2a2a" />
<text x="66.1" y="467.2" font-size="7" fill="#222" text-anchor="middle" >L</text>
<line x1="16" y1="492" x2="16" y2="504" stroke="#444" stroke-width="0.4" />
<line x1="116.2" y1="492" x2="116.2" y2="504" stroke="#444" stroke-width="0.4" />
<line x1="16" y1="493.7" x2="116.2" y2="493.7" stroke="#2a2a2a" stroke-width="0.5" />
<polygon points="16,493.7 19.2,492.9 19.2,494.5" fill="#2a2a2a" />
<polygon points="116.2,493.7 113,492.9 113,494.5" fill="#2a2a2a" />
<text x="66.1" y="492.7" font-size="7" fill="#222" text-anchor="middle" >L<tspan font-size="3.8500000000000005">1</tspan></text>
<rect x="16" y="503.8" width="100.2" height="49.8" fill="url(#st6)" />
<circle cx="66" cy="529" r="3.2" fill="#fdfdfd" />
<line x1="116.2" y1="503.8" x2="131" y2="503.8" stroke="#444" stroke-width="0.4" />
<line x1="116.2" y1="553.6" x2="131" y2="553.6" stroke="#444" stroke-width="0.4" />
<line x1="129.1" y1="503.8" x2="129.1" y2="553.6" stroke="#2a2a2a" stroke-width="0.5" />
<polygon points="129.1,503.8 128.3,507 129.9,507" fill="#2a2a2a" />
<polygon points="129.1,553.6 128.3,550.4 129.9,550.4" fill="#2a2a2a" />
<text x="128" y="534" font-size="7" fill="#222" text-anchor="middle" transform="rotate(-90 128 534)">W<tspan font-size="3.8500000000000005">1</tspan></text>
<rect x="178.8" y="393.2" width="5" height="10.4" fill="#151515" />
<rect x="159" y="403.3" width="44.5" height="35.9" fill="#3543a8" />
<rect x="178.2" y="405.3" width="6.2" height="3" fill="#f4f4f4" />
<rect x="178.6" y="408.3" width="5.4" height="9.6" fill="#151515" />
<rect x="178.2" y="417.9" width="6.2" height="2.1" fill="#f4f4f4" />
<rect x="155.6" y="389.3" width="50.9" height="3.9" fill="#343494" />
<rect x="155.6" y="439.2" width="50.9" height="3.4" fill="#343494" />
<rect x="177.9" y="384.3" width="6.8" height="5" fill="#ededed" stroke="#444" stroke-width="0.5"/>
<line x1="157.8" y1="442.6" x2="157.8" y2="454.2" stroke="#444" stroke-width="0.4" />
<line x1="203.5" y1="442.6" x2="203.5" y2="454.2" stroke="#444" stroke-width="0.4" />
<line x1="157.8" y1="452.6" x2="203.5" y2="452.6" stroke="#2a2a2a" stroke-width="0.5" />
<polygon points="157.8,452.6 161,451.8 161,453.4" fill="#2a2a2a" />
<polygon points="203.5,452.6 200.3,451.8 200.3,453.4" fill="#2a2a2a" />
<text x="180.65" y="451.6" font-size="7" fill="#222" text-anchor="middle" >B</text>
<line x1="155.6" y1="442.6" x2="155.6" y2="465" stroke="#444" stroke-width="0.4" />
<line x1="206.5" y1="442.6" x2="206.5" y2="465" stroke="#444" stroke-width="0.4" />
<line x1="155.6" y1="463.2" x2="206.5" y2="463.2" stroke="#2a2a2a" stroke-width="0.5" />
<polygon points="155.6,463.2 158.8,462.4 158.8,464" fill="#2a2a2a" />
<polygon points="206.5,463.2 203.3,462.4 203.3,464" fill="#2a2a2a" />
<text x="181.05" y="462.2" font-size="7" fill="#222" text-anchor="middle" >W</text>
<line x1="135.9" y1="464.5" x2="135.9" y2="497" stroke="#889" stroke-width="0.4" />
<polygon points="130.3,543.5 165,531 232.5,558.6 192.3,569.5" fill="#2d4fc8" />
<polygon points="130.3,543.5 192.3,569.5 192.3,574 130.3,548" fill="#3833a4" />
<polygon points="192.3,569.5 232.5,558.6 232.5,563.2 192.3,574" fill="#3b3296" />
<polygon points="132.3,507 147,502.5 216,521 229.6,527.1 228.1,560 196.7,570.5 185.8,566.5 132.3,544.5" fill="#2b2884" />
<polygon points="132.3,507 142,511 142,548.5 132.3,544.5" fill="#3833a4" />
<polygon points="132.3,507 147,502.5 156,506.5 142,511" fill="#2d4fc8" />
<polygon points="142,511 184.5,528.5 184.5,531 142,513.5" fill="#3049c2" />
<polygon points="142,513.5 184.5,531 184.5,566 142,548.5" fill="#2b2884" />
<ellipse cx="159.5" cy="527.3" rx="6.4" ry="2.43" fill="#8e1410" />
<ellipse cx="159.5" cy="526" rx="6.4" ry="2.43" fill="#ee2a20" />
<ellipse cx="159.5" cy="532.1" rx="6.4" ry="2.43" fill="#8e1410" />
<ellipse cx="159.5" cy="530.8" rx="6.4" ry="2.43" fill="#ee2a20" />
<ellipse cx="159.5" cy="536.9" rx="6.4" ry="2.43" fill="#8e1410" />
<ellipse cx="159.5" cy="535.6" rx="6.4" ry="2.43" fill="#ee2a20" />
<ellipse cx="159.5" cy="541.7" rx="6.4" ry="2.43" fill="#8e1410" />
<ellipse cx="159.5" cy="540.4" rx="6.4" ry="2.43" fill="#ee2a20" />
<ellipse cx="159.5" cy="546.5" rx="6.4" ry="2.43" fill="#8e1410" />
<ellipse cx="159.5" cy="545.2" rx="6.4" ry="2.43" fill="#ee2a20" />
<ellipse cx="159.5" cy="550.4" rx="7.2" ry="2.69" fill="#555252" />
<ellipse cx="171.5" cy="533.3" rx="6.4" ry="2.43" fill="#8e1410" />
<ellipse cx="171.5" cy="532" rx="6.4" ry="2.43" fill="#ee2a20" />
<ellipse cx="171.5" cy="538.1" rx="6.4" ry="2.43" fill="#8e1410" />
<ellipse cx="171.5" cy="536.8" rx="6.4" ry="2.43" fill="#ee2a20" />
<ellipse cx="171.5" cy="542.9" rx="6.4" ry="2.43" fill="#8e1410" />
<ellipse cx="171.5" cy="541.6" rx="6.4" ry="2.43" fill="#ee2a20" />
<ellipse cx="171.5" cy="547.7" rx="6.4" ry="2.43" fill="#8e1410" />
<ellipse cx="171.5" cy="546.4" rx="6.4" ry="2.43" fill="#ee2a20" />
<ellipse cx="171.5" cy="552.5" rx="6.4" ry="2.43" fill="#8e1410" />
<ellipse cx="171.5" cy="551.2" rx="6.4" ry="2.43" fill="#ee2a20" />
<ellipse cx="171.5" cy="556.4" rx="7.2" ry="2.69" fill="#555252" />
<ellipse cx="181.5" cy="540.3" rx="4.6" ry="1.75" fill="#8e1410" />
<ellipse cx="181.5" cy="539" rx="4.6" ry="1.75" fill="#ee2a20" />
<ellipse cx="181.5" cy="545.1" rx="4.6" ry="1.75" fill="#8e1410" />
<ellipse cx="181.5" cy="543.8" rx="4.6" ry="1.75" fill="#ee2a20" />
<ellipse cx="181.5" cy="549.9" rx="4.6" ry="1.75" fill="#8e1410" />
<ellipse cx="181.5" cy="548.6" rx="4.6" ry="1.75" fill="#ee2a20" />
<ellipse cx="181.5" cy="554.7" rx="4.6" ry="1.75" fill="#8e1410" />
<ellipse cx="181.5" cy="553.4" rx="4.6" ry="1.75" fill="#ee2a20" />
<ellipse cx="181.5" cy="558.6" rx="5.4" ry="1.93" fill="#555252" />
<polygon points="185.8,535 196.7,539 196.7,570.5 185.8,566.5" fill="#3833a4" />
<polygon points="196.7,539 228.1,528.6 228.1,560 196.7,570.5" fill="#3b3296" />
<polygon points="186.2,533.3 218,522.5 229.6,527.1 196.7,537.2" fill="#2d4fc8" />
<polygon points="186.2,533.3 196.7,537.2 196.7,539.2 186.2,535.2" fill="#3b3296" />
<polygon points="196.7,537.2 229.6,527.1 229.6,529 196.7,539.2" fill="#33288a" />
<line x1="207.3" y1="524" x2="207.3" y2="530.6" stroke="#151515" stroke-width="4" />
<line x1="207.3" y1="535.4" x2="207.3" y2="542.2" stroke="#151515" stroke-width="4" />
<ellipse cx="207.3" cy="543.8" rx="3.4" ry="1.7" fill="#e8e8e8" stroke="#333" stroke-width="0.4"/>
<polygon points="129.9,496.1 164.3,483.5 232.5,512.4 192.3,525.1" fill="#141212" />
<polygon points="129.9,496.1 192.3,525.1 192.3,527.6 129.9,498.6" fill="#3d2f9a" />
<polygon points="192.3,525.1 232.5,512.4 232.5,514.8 192.3,527.6" fill="#33288a" />
<ellipse cx="181.2" cy="503.6" rx="3.3" ry="1.8" fill="#cfcfcf" />
<rect x="177.9" y="499.8" width="6.6" height="3.8" fill="#e6e6e6" />
<ellipse cx="181.2" cy="499.8" rx="3.3" ry="1.7" fill="#f6f6f6" stroke="#999" stroke-width="0.3"/>
<line x1="178" y1="501" x2="184.4" y2="501" stroke="#999" stroke-width="0.3" />
<line x1="178" y1="502.4" x2="184.4" y2="502.4" stroke="#999" stroke-width="0.3" />
<text x="142.6" y="573.2" font-size="7.3" fill="#222" text-anchor="middle" >4*øBD</text>
<polyline points="124.5,574.8 156.2,574.8 179.7,569.5" fill="none" stroke="#444" stroke-width="0.4" />
<line x1="116.2" y1="504.4" x2="130.5" y2="504.4" stroke="#444" stroke-width="0.4" />
<line x1="116.2" y1="553.2" x2="130.5" y2="553.2" stroke="#444" stroke-width="0.4" />
<rect x="295.2" y="394.5" width="4.2" height="9.9" fill="#151515" />
<rect x="369.6" y="394.5" width="4.2" height="9.9" fill="#151515" />
<rect x="288.5" y="404.1" width="17.6" height="1.9" fill="#3038a6" />
<rect x="363.2" y="404.1" width="16.8" height="1.9" fill="#3038a6" />
<rect x="290.5" y="404.1" width="15.1" height="33.2" fill="#3543a8" />
<rect x="363.2" y="404.1" width="15.1" height="33.2" fill="#3543a8" />
<rect x="322" y="396.7" width="6" height="6.2" fill="#f2f2f2" stroke="#555" stroke-width="0.4"/>
<rect x="323.4" y="397.9" width="3.2" height="3.7" fill="#151515" />
<rect x="340.3" y="396.7" width="6" height="6.2" fill="#f2f2f2" stroke="#555" stroke-width="0.4"/>
<rect x="341.7" y="397.9" width="3.2" height="3.7" fill="#151515" />
<rect x="332.5" y="394.5" width="3.3" height="9.1" fill="#151515" />
<rect x="307.3" y="403.4" width="54.2" height="2.2" fill="#3038a6" />
<polygon points="308.3,405.6 360.5,405.6 358.6,407.4 310.2,407.4" fill="#3543a8" />
<line x1="313.05" y1="409.35" x2="322.15" y2="412.14" stroke="#861210" stroke-width="3.315" stroke-linecap="round"/>
<line x1="313.05" y1="414.92" x2="322.15" y2="417.71" stroke="#861210" stroke-width="3.315" stroke-linecap="round"/>
<line x1="313.05" y1="420.5" x2="322.15" y2="423.29" stroke="#861210" stroke-width="3.315" stroke-linecap="round"/>
<line x1="313.05" y1="426.07" x2="322.15" y2="428.86" stroke="#861210" stroke-width="3.315" stroke-linecap="round"/>
<line x1="322.15" y1="412.14" x2="313.05" y2="414.93" stroke="#e6231c" stroke-width="3.9" stroke-linecap="round"/>
<line x1="320.98" y1="411.67" x2="315" y2="413.83" stroke="#ff5a4a" stroke-width="0.975" stroke-linecap="round" opacity="0.55"/>
<line x1="322.15" y1="417.71" x2="313.05" y2="420.5" stroke="#e6231c" stroke-width="3.9" stroke-linecap="round"/>
<line x1="320.98" y1="417.24" x2="315" y2="419.41" stroke="#ff5a4a" stroke-width="0.975" stroke-linecap="round" opacity="0.55"/>
<line x1="322.15" y1="423.29" x2="313.05" y2="426.08" stroke="#e6231c" stroke-width="3.9" stroke-linecap="round"/>
<line x1="320.98" y1="422.82" x2="315" y2="424.98" stroke="#ff5a4a" stroke-width="0.975" stroke-linecap="round" opacity="0.55"/>
<line x1="322.15" y1="428.86" x2="313.05" y2="431.65" stroke="#e6231c" stroke-width="3.9" stroke-linecap="round"/>
<line x1="320.98" y1="428.39" x2="315" y2="430.56" stroke="#ff5a4a" stroke-width="0.975" stroke-linecap="round" opacity="0.55"/>
<line x1="322.15" y1="409.35" x2="313.05" y2="409.35" stroke="#e6231c" stroke-width="3.9" stroke-linecap="round"/>
<line x1="329.85" y1="409.35" x2="338.55" y2="412.14" stroke="#861210" stroke-width="3.315" stroke-linecap="round"/>
<line x1="329.85" y1="414.92" x2="338.55" y2="417.71" stroke="#861210" stroke-width="3.315" stroke-linecap="round"/>
<line x1="329.85" y1="420.5" x2="338.55" y2="423.29" stroke="#861210" stroke-width="3.315" stroke-linecap="round"/>
<line x1="329.85" y1="426.07" x2="338.55" y2="428.86" stroke="#861210" stroke-width="3.315" stroke-linecap="round"/>
<line x1="338.55" y1="412.14" x2="329.85" y2="414.93" stroke="#e6231c" stroke-width="3.9" stroke-linecap="round"/>
<line x1="337.38" y1="411.67" x2="331.8" y2="413.83" stroke="#ff5a4a" stroke-width="0.975" stroke-linecap="round" opacity="0.55"/>
<line x1="338.55" y1="417.71" x2="329.85" y2="420.5" stroke="#e6231c" stroke-width="3.9" stroke-linecap="round"/>
<line x1="337.38" y1="417.24" x2="331.8" y2="419.41" stroke="#ff5a4a" stroke-width="0.975" stroke-linecap="round" opacity="0.55"/>
<line x1="338.55" y1="423.29" x2="329.85" y2="426.08" stroke="#e6231c" stroke-width="3.9" stroke-linecap="round"/>
<line x1="337.38" y1="422.82" x2="331.8" y2="424.98" stroke="#ff5a4a" stroke-width="0.975" stroke-linecap="round" opacity="0.55"/>
<line x1="338.55" y1="428.86" x2="329.85" y2="431.65" stroke="#e6231c" stroke-width="3.9" stroke-linecap="round"/>
<line x1="337.38" y1="428.39" x2="331.8" y2="430.56" stroke="#ff5a4a" stroke-width="0.975" stroke-linecap="round" opacity="0.55"/>
<line x1="338.55" y1="409.35" x2="329.85" y2="409.35" stroke="#e6231c" stroke-width="3.9" stroke-linecap="round"/>
<line x1="347.15" y1="409.35" x2="356.25" y2="412.14" stroke="#861210" stroke-width="3.315" stroke-linecap="round"/>
<line x1="347.15" y1="414.92" x2="356.25" y2="417.71" stroke="#861210" stroke-width="3.315" stroke-linecap="round"/>
<line x1="347.15" y1="420.5" x2="356.25" y2="423.29" stroke="#861210" stroke-width="3.315" stroke-linecap="round"/>
<line x1="347.15" y1="426.07" x2="356.25" y2="428.86" stroke="#861210" stroke-width="3.315" stroke-linecap="round"/>
<line x1="356.25" y1="412.14" x2="347.15" y2="414.93" stroke="#e6231c" stroke-width="3.9" stroke-linecap="round"/>
<line x1="355.08" y1="411.67" x2="349.1" y2="413.83" stroke="#ff5a4a" stroke-width="0.975" stroke-linecap="round" opacity="0.55"/>
<line x1="356.25" y1="417.71" x2="347.15" y2="420.5" stroke="#e6231c" stroke-width="3.9" stroke-linecap="round"/>
<line x1="355.08" y1="417.24" x2="349.1" y2="419.41" stroke="#ff5a4a" stroke-width="0.975" stroke-linecap="round" opacity="0.55"/>
<line x1="356.25" y1="423.29" x2="347.15" y2="426.08" stroke="#e6231c" stroke-width="3.9" stroke-linecap="round"/>
<line x1="355.08" y1="422.82" x2="349.1" y2="424.98" stroke="#ff5a4a" stroke-width="0.975" stroke-linecap="round" opacity="0.55"/>
<line x1="356.25" y1="428.86" x2="347.15" y2="431.65" stroke="#e6231c" stroke-width="3.9" stroke-linecap="round"/>
<line x1="355.08" y1="428.39" x2="349.1" y2="430.56" stroke="#ff5a4a" stroke-width="0.975" stroke-linecap="round" opacity="0.55"/>
<line x1="356.25" y1="409.35" x2="347.15" y2="409.35" stroke="#e6231c" stroke-width="3.9" stroke-linecap="round"/>
<rect x="324.1" y="406" width="3" height="5.8" fill="#151515" />
<rect x="341.9" y="406" width="2.8" height="5.8" fill="#151515" />
<rect x="309.8" y="433.1" width="14.8" height="4.1" fill="#5f5757" />
<rect x="327.1" y="433.1" width="14.8" height="4.1" fill="#5f5757" />
<rect x="344.4" y="433.1" width="14.9" height="4.1" fill="#5f5757" />
<rect x="288.5" y="391.1" width="91.5" height="3.4" fill="#343494" />
<rect x="288.5" y="437" width="91.5" height="3.7" fill="#343494" />
<rect x="331.8" y="388.8" width="4.4" height="2.3" fill="#333" />
<polyline points="334.5,388.4 347,375 355.5,374.4" fill="none" stroke="#333" stroke-width="0.45" />
<polyline points="328.2,400.8 357,385.4 362.5,384.8" fill="none" stroke="#333" stroke-width="0.45" />
<polyline points="346.5,400.5 357,385.4" fill="none" stroke="#333" stroke-width="0.45" />
<text x="356.8" y="376.7" font-size="6.4" fill="#3a3a3a" font-family="'Liberation Serif', 'Noto Serif CJK SC', serif">固定螺栓</text>
<text x="363.2" y="387.1" font-size="6.272" fill="#222" text-anchor="start" font-weight="bold">M22</text>
<text x="375.68" y="387.1" font-size="6.4" fill="#3a3a3a" font-family="'Liberation Serif', 'Noto Serif CJK SC', serif">调整螺栓</text>
<line x1="291" y1="440.7" x2="291" y2="451.8" stroke="#444" stroke-width="0.4" />
<line x1="377.5" y1="440.7" x2="377.5" y2="451.8" stroke="#444" stroke-width="0.4" />
<line x1="291" y1="450.2" x2="377.5" y2="450.2" stroke="#2a2a2a" stroke-width="0.5" />
<polygon points="291,450.2 294.2,449.4 294.2,451" fill="#2a2a2a" />
<polygon points="377.5,450.2 374.3,449.4 374.3,451" fill="#2a2a2a" />
<text x="336.8" y="449.2" font-size="6.4" fill="#222" text-anchor="middle" >A</text>
<line x1="288.5" y1="440.7" x2="288.5" y2="462" stroke="#444" stroke-width="0.4" />
<line x1="380" y1="440.7" x2="380" y2="462" stroke="#444" stroke-width="0.4" />
<line x1="288.5" y1="460.3" x2="380" y2="460.3" stroke="#2a2a2a" stroke-width="0.5" />
<polygon points="288.5,460.3 291.7,459.5 291.7,461.1" fill="#2a2a2a" />
<polygon points="380,460.3 376.8,459.5 376.8,461.1" fill="#2a2a2a" />
<text x="336.8" y="459.3" font-size="6.4" fill="#222" text-anchor="middle" >L</text>
<line x1="288.5" y1="477" x2="288.5" y2="493.4" stroke="#444" stroke-width="0.4" />
<line x1="380" y1="477" x2="380" y2="493.4" stroke="#444" stroke-width="0.4" />
<line x1="288.5" y1="478.8" x2="380" y2="478.8" stroke="#2a2a2a" stroke-width="0.5" />
<polygon points="288.5,478.8 291.7,478 291.7,479.6" fill="#2a2a2a" />
<polygon points="380,478.8 376.8,478 376.8,479.6" fill="#2a2a2a" />
<text x="336.5" y="477.8" font-size="6.4" fill="#222" text-anchor="middle" >L<tspan font-size="3.5200000000000005">1</tspan></text>
<rect x="288.5" y="493.4" width="91.5" height="67.6" fill="url(#st9)" />
<circle cx="334.7" cy="528.7" r="1.9" fill="#fdfdfd" />
<line x1="380" y1="493.4" x2="393" y2="493.4" stroke="#444" stroke-width="0.4" />
<line x1="380" y1="561" x2="393" y2="561" stroke="#444" stroke-width="0.4" />
<line x1="391.4" y1="493.4" x2="391.4" y2="561" stroke="#2a2a2a" stroke-width="0.5" />
<polygon points="391.4,493.4 390.6,496.6 392.2,496.6" fill="#2a2a2a" />
<polygon points="391.4,561 390.6,557.8 392.2,557.8" fill="#2a2a2a" />
<text x="390.3" y="535" font-size="7" fill="#222" text-anchor="middle" transform="rotate(-90 390.3 535)">W<tspan font-size="3.8500000000000005">1</tspan></text>
<rect x="432" y="394.9" width="4.2" height="8.9" fill="#151515" />
<rect x="459.5" y="394.9" width="4.2" height="8.9" fill="#151515" />
<rect x="447.1" y="394.9" width="3.4" height="7.9" fill="#151515" />
<rect x="436.8" y="395.4" width="6" height="7.2" fill="#f2f2f2" stroke="#555" stroke-width="0.4"/>
<rect x="438.2" y="396.8" width="3.2" height="4.4" fill="#151515" />
<rect x="453.8" y="395.4" width="6" height="7.2" fill="#f2f2f2" stroke="#555" stroke-width="0.4"/>
<rect x="455.2" y="396.8" width="3.2" height="4.4" fill="#151515" />
<rect x="417.2" y="403.6" width="61" height="33.6" fill="#3543a8" />
<rect x="431.9" y="406.4" width="4.4" height="10.4" fill="#151515" />
<rect x="431.4" y="416.8" width="5.4" height="2.4" fill="#f4f4f4" />
<rect x="459.2" y="406.4" width="4.4" height="10.4" fill="#151515" />
<rect x="458.7" y="416.8" width="5.4" height="2.4" fill="#f4f4f4" />
<rect x="414.4" y="391" width="67.1" height="3.9" fill="#343494" />
<rect x="414.4" y="437.2" width="67.1" height="3.3" fill="#343494" />
<ellipse cx="448.8" cy="389.7" rx="2.2" ry="1.3" fill="#eee" stroke="#444" stroke-width="0.4"/>
<line x1="417.2" y1="440.5" x2="417.2" y2="450.5" stroke="#444" stroke-width="0.4" />
<line x1="478.2" y1="440.5" x2="478.2" y2="450.5" stroke="#444" stroke-width="0.4" />
<line x1="417.2" y1="448.9" x2="478.2" y2="448.9" stroke="#2a2a2a" stroke-width="0.5" />
<polygon points="417.2,448.9 420.4,448.1 420.4,449.7" fill="#2a2a2a" />
<polygon points="478.2,448.9 475,448.1 475,449.7" fill="#2a2a2a" />
<text x="447.7" y="447.9" font-size="6.4" fill="#222" text-anchor="middle" >B</text>
<line x1="414.4" y1="440.5" x2="414.4" y2="461.6" stroke="#444" stroke-width="0.4" />
<line x1="481.5" y1="440.5" x2="481.5" y2="461.6" stroke="#444" stroke-width="0.4" />
<line x1="414.4" y1="459.9" x2="481.5" y2="459.9" stroke="#2a2a2a" stroke-width="0.5" />
<polygon points="414.4,459.9 417.6,459.1 417.6,460.7" fill="#2a2a2a" />
<polygon points="481.5,459.9 478.3,459.1 478.3,460.7" fill="#2a2a2a" />
<text x="447.95" y="458.9" font-size="6.6" fill="#222" text-anchor="middle" >W</text>
<polygon points="392.7,541.4 440,527 503,552.3 448.7,566.8" fill="#2d4fc8" />
<polygon points="392.7,541.4 448.7,566.8 448.7,571.3 392.7,545.8" fill="#3833a4" />
<polygon points="448.7,566.8 503,552.3 503,556.5 448.7,571.3" fill="#3b3296" />
<polygon points="395.9,510.7 415,505 488,517.5 499.9,523.4 498,553.6 452.9,568.8 443.5,565.4 395.9,543.3" fill="#2b2884" />
<polygon points="395.9,510.7 405,514.5 405,547 395.9,543.3" fill="#3833a4" />
<polygon points="395.9,510.7 415,505 424,508.5 405,514.5" fill="#2d4fc8" />
<polygon points="405,514.5 443,530.5 443,533 405,517" fill="#3049c2" />
<polygon points="405,517 443,533 443,563.5 405,547" fill="#2b2884" />
<ellipse cx="419.5" cy="528.2" rx="5.6" ry="2.13" fill="#8e1410" />
<ellipse cx="419.5" cy="527" rx="5.6" ry="2.13" fill="#ee2a20" />
<ellipse cx="419.5" cy="532.4" rx="5.6" ry="2.13" fill="#8e1410" />
<ellipse cx="419.5" cy="531.2" rx="5.6" ry="2.13" fill="#ee2a20" />
<ellipse cx="419.5" cy="536.6" rx="5.6" ry="2.13" fill="#8e1410" />
<ellipse cx="419.5" cy="535.4" rx="5.6" ry="2.13" fill="#ee2a20" />
<ellipse cx="419.5" cy="540.8" rx="5.6" ry="2.13" fill="#8e1410" />
<ellipse cx="419.5" cy="539.6" rx="5.6" ry="2.13" fill="#ee2a20" />
<ellipse cx="419.5" cy="545" rx="5.6" ry="2.13" fill="#8e1410" />
<ellipse cx="419.5" cy="543.8" rx="5.6" ry="2.13" fill="#ee2a20" />
<ellipse cx="419.5" cy="548.4" rx="6.4" ry="2.35" fill="#555252" />
<ellipse cx="431" cy="534.7" rx="5.6" ry="2.13" fill="#8e1410" />
<ellipse cx="431" cy="533.5" rx="5.6" ry="2.13" fill="#ee2a20" />
<ellipse cx="431" cy="538.9" rx="5.6" ry="2.13" fill="#8e1410" />
<ellipse cx="431" cy="537.7" rx="5.6" ry="2.13" fill="#ee2a20" />
<ellipse cx="431" cy="543.1" rx="5.6" ry="2.13" fill="#8e1410" />
<ellipse cx="431" cy="541.9" rx="5.6" ry="2.13" fill="#ee2a20" />
<ellipse cx="431" cy="547.3" rx="5.6" ry="2.13" fill="#8e1410" />
<ellipse cx="431" cy="546.1" rx="5.6" ry="2.13" fill="#ee2a20" />
<ellipse cx="431" cy="551.5" rx="5.6" ry="2.13" fill="#8e1410" />
<ellipse cx="431" cy="550.3" rx="5.6" ry="2.13" fill="#ee2a20" />
<ellipse cx="431" cy="554.9" rx="6.4" ry="2.35" fill="#555252" />
<ellipse cx="440.5" cy="541.2" rx="4.2" ry="1.6" fill="#8e1410" />
<ellipse cx="440.5" cy="540" rx="4.2" ry="1.6" fill="#ee2a20" />
<ellipse cx="440.5" cy="545.4" rx="4.2" ry="1.6" fill="#8e1410" />
<ellipse cx="440.5" cy="544.2" rx="4.2" ry="1.6" fill="#ee2a20" />
<ellipse cx="440.5" cy="549.6" rx="4.2" ry="1.6" fill="#8e1410" />
<ellipse cx="440.5" cy="548.4" rx="4.2" ry="1.6" fill="#ee2a20" />
<ellipse cx="440.5" cy="553.8" rx="4.2" ry="1.6" fill="#8e1410" />
<ellipse cx="440.5" cy="552.6" rx="4.2" ry="1.6" fill="#ee2a20" />
<ellipse cx="440.5" cy="557.2" rx="5" ry="1.76" fill="#555252" />
<polygon points="443.5,535 452.9,538.8 452.9,568.8 443.5,565.4" fill="#3833a4" />
<polygon points="452.9,538.8 498,525.4 498,553.6 452.9,568.8" fill="#3b3296" />
<polygon points="488.3,528.3 498,525.4 498,553.6 488.3,556.8" fill="#33298c" />
<polygon points="444.1,533.1 490.2,518.8 499.9,523.4 452.9,537.2" fill="#2d4fc8" />
<polygon points="444.1,533.1 452.9,537.2 452.9,539 444.1,534.9" fill="#3b3296" />
<polygon points="452.9,537.2 499.9,523.4 499.9,525.2 452.9,539" fill="#33288a" />
<line x1="460.3" y1="526.6" x2="460.3" y2="531.4" stroke="#151515" stroke-width="4.2" />
<line x1="460.3" y1="537.6" x2="460.3" y2="542" stroke="#151515" stroke-width="4.2" />
<ellipse cx="460.3" cy="543.4" rx="3.6" ry="1.8" fill="#e8e8e8" stroke="#333" stroke-width="0.4"/>
<line x1="481.6" y1="520.2" x2="481.6" y2="525" stroke="#151515" stroke-width="4.2" />
<line x1="481.6" y1="531.2" x2="481.6" y2="535.6" stroke="#151515" stroke-width="4.2" />
<ellipse cx="481.6" cy="537" rx="3.6" ry="1.8" fill="#e8e8e8" stroke="#333" stroke-width="0.4"/>
<polygon points="476.8,560 498,553.4 503,552.3 470,562.8" fill="#2d4fc8" />
<polygon points="392.7,499.8 444.7,483 503,511.2 450.2,526.4" fill="#131111" />
<polygon points="392.7,499.8 450.2,526.4 450.2,528.8 392.7,502.2" fill="#3d2f9a" />
<polygon points="450.2,526.4 503,511.2 503,513.5 450.2,528.8" fill="#33288a" />
<ellipse cx="446.9" cy="503.4" rx="2.7" ry="2" fill="#e4e4e4" stroke="#666" stroke-width="0.4"/>
<ellipse cx="446.9" cy="502.8" rx="1.4" ry="0.9" fill="#aaa" />
<text x="410.4" y="572.8" font-size="7.3" fill="#222" text-anchor="middle" >4*øBD</text>
<polyline points="393.6,574.5 423.4,574.5 442.4,569.1" fill="none" stroke="#444" stroke-width="0.4" />
<line x1="401.8" y1="492" x2="401.8" y2="529" stroke="#a8b8d0" stroke-width="0.4" />
<line x1="385" y1="511.6" x2="409" y2="511.6" stroke="#a8b8d0" stroke-width="0.4" />
<ellipse cx="556" cy="504" rx="46" ry="6" fill="#000" opacity="0.04"/>
<polygon points="511.3,494.2 534,490.5 598.1,496.9 546.6,506.8" fill="#2a2a2a" />
<polygon points="511.3,494.2 546.6,506.8 546.6,509.6 511.3,497" fill="#111" />
<polygon points="546.6,506.8 598.1,496.9 598.1,499.6 546.6,509.6" fill="#1a1a1a" />
<polygon points="530,458 589,459.5 589,480 530,480" fill="#26388c" />
<polygon points="574.6,461.2 589.1,462.2 589.1,494.5 574.6,495.8" fill="#2b419e" />
<polygon points="574.6,461.2 579,461.5 579,495.4 574.6,495.8" fill="#1b2a78" />
<rect x="581" y="464" width="5.6" height="3.4" fill="#dfe3ee" />
<rect x="554.7" y="493" width="18.1" height="7.5" fill="#151515" />
<ellipse cx="563.7" cy="500.5" rx="9.05" ry="2.2" fill="#151515" />
<ellipse cx="563.8" cy="473.2" rx="10" ry="2.9" fill="#2f8a4e" />
<ellipse cx="563.8" cy="472" rx="10" ry="2.9" fill="#6bd08a" />
<ellipse cx="562.5" cy="471.2" rx="6" ry="1.1" fill="#d9f6e2" />
<ellipse cx="563.8" cy="478.1" rx="10" ry="2.9" fill="#2f8a4e" />
<ellipse cx="563.8" cy="476.9" rx="10" ry="2.9" fill="#6bd08a" />
<ellipse cx="562.5" cy="476.1" rx="6" ry="1.1" fill="#d9f6e2" />
<ellipse cx="563.8" cy="483" rx="10" ry="2.9" fill="#2f8a4e" />
<ellipse cx="563.8" cy="481.8" rx="10" ry="2.9" fill="#6bd08a" />
<ellipse cx="562.5" cy="481" rx="6" ry="1.1" fill="#d9f6e2" />
<ellipse cx="563.8" cy="487.9" rx="10" ry="2.9" fill="#2f8a4e" />
<ellipse cx="563.8" cy="486.7" rx="10" ry="2.9" fill="#6bd08a" />
<ellipse cx="562.5" cy="485.9" rx="6" ry="1.1" fill="#d9f6e2" />
<ellipse cx="563.8" cy="492.8" rx="10" ry="2.9" fill="#2f8a4e" />
<ellipse cx="563.8" cy="491.6" rx="10" ry="2.9" fill="#6bd08a" />
<ellipse cx="562.5" cy="490.8" rx="6" ry="1.1" fill="#d9f6e2" />
<rect x="555" y="464.8" width="17.5" height="5.7" fill="#3a3a3a" />
<polygon points="520.9,459.2 532.1,462.5 532.1,498.2 520.9,494.6" fill="#1b2a78" />
<polygon points="532.1,462.5 552.9,464.2 552.9,500.8 532.1,498.2" fill="#2b419e" />
<polygon points="520.9,459.2 541,457 552.9,460.2 532.1,462.5" fill="#3a5ab8" />
<rect x="534.4" y="465.2" width="3.8" height="13.4" fill="#e8eaf0" />
<rect x="533.6" y="476.8" width="5.4" height="2.4" fill="#f4f4f4" />
<polygon points="522.2,455 540.3,461.5 591.8,454.5 591.8,459.6 552.9,464.6 540.3,466.2 522.2,459.4" fill="#c5c9d4" />
<rect x="534.7" y="458.1" width="3.6" height="3.4" fill="#222" />
<rect x="571.2" y="454.1" width="3.6" height="3.4" fill="#222" />
<rect x="551.2" y="453.6" width="3.6" height="3.4" fill="#222" />
<polygon points="516.2,449.3 569.2,442.6 593.3,449.8 540.3,457.6" fill="#2b2b2b" />
<polygon points="516.2,449.3 540.3,457.6 540.3,461.8 516.2,453.4" fill="#0f0f0f" />
<polygon points="540.3,457.6 593.3,449.8 593.3,453.8 540.3,461.8" fill="#1a1a1a" />
<polygon points="521.5,449.4 568.6,443.6 588.2,449.6 541,456.2" fill="none" stroke="#4a4a4a" stroke-width="0.6"/>
<ellipse cx="712" cy="508" rx="56" ry="5" fill="#000" opacity="0.025"/>
<polygon points="655.9,493.2 742.1,509.6 764.3,499.6 764.3,502.6 742.1,513 655.9,496.4" fill="#243384" />
<polygon points="655.9,460.3 666,458.6 666,497.5 655.9,493.2" fill="#1b2a78" />
<polygon points="666,460.3 724.8,467.2 724.8,506.4 666,496.7" fill="#16161c" />
<ellipse cx="679" cy="471.1" rx="8.3" ry="2.9" fill="#7d0f0f" />
<ellipse cx="679" cy="469.5" rx="8.3" ry="2.7" fill="#e02a25" />
<ellipse cx="678" cy="468.5" rx="4.6" ry="0.9" fill="#f7b8b0" />
<ellipse cx="679" cy="478.3" rx="8.3" ry="2.9" fill="#7d0f0f" />
<ellipse cx="679" cy="476.7" rx="8.3" ry="2.7" fill="#e02a25" />
<ellipse cx="678" cy="475.7" rx="4.6" ry="0.9" fill="#f7b8b0" />
<ellipse cx="679" cy="485.5" rx="8.3" ry="2.9" fill="#7d0f0f" />
<ellipse cx="679" cy="483.9" rx="8.3" ry="2.7" fill="#e02a25" />
<ellipse cx="678" cy="482.9" rx="4.6" ry="0.9" fill="#f7b8b0" />
<ellipse cx="679" cy="492.7" rx="8.3" ry="2.9" fill="#7d0f0f" />
<ellipse cx="679" cy="491.1" rx="8.3" ry="2.7" fill="#e02a25" />
<ellipse cx="678" cy="490.1" rx="4.6" ry="0.9" fill="#f7b8b0" />
<ellipse cx="679" cy="495" rx="8.5" ry="3" fill="#0e0e0e" />
<rect x="670.5" y="491.5" width="17" height="3.5" fill="#0e0e0e" />
<ellipse cx="679" cy="466" rx="7" ry="1.6" fill="#3a4a9a" />
<ellipse cx="697.1" cy="473.7" rx="8.3" ry="2.9" fill="#7d0f0f" />
<ellipse cx="697.1" cy="472.1" rx="8.3" ry="2.7" fill="#e02a25" />
<ellipse cx="696.1" cy="471.1" rx="4.6" ry="0.9" fill="#f7b8b0" />
<ellipse cx="697.1" cy="480.9" rx="8.3" ry="2.9" fill="#7d0f0f" />
<ellipse cx="697.1" cy="479.3" rx="8.3" ry="2.7" fill="#e02a25" />
<ellipse cx="696.1" cy="478.3" rx="4.6" ry="0.9" fill="#f7b8b0" />
<ellipse cx="697.1" cy="488.1" rx="8.3" ry="2.9" fill="#7d0f0f" />
<ellipse cx="697.1" cy="486.5" rx="8.3" ry="2.7" fill="#e02a25" />
<ellipse cx="696.1" cy="485.5" rx="4.6" ry="0.9" fill="#f7b8b0" />
<ellipse cx="697.1" cy="495.3" rx="8.3" ry="2.9" fill="#7d0f0f" />
<ellipse cx="697.1" cy="493.7" rx="8.3" ry="2.7" fill="#e02a25" />
<ellipse cx="696.1" cy="492.7" rx="4.6" ry="0.9" fill="#f7b8b0" />
<ellipse cx="697.1" cy="497.6" rx="8.5" ry="3" fill="#0e0e0e" />
<rect x="688.6" y="494.1" width="17" height="3.5" fill="#0e0e0e" />
<ellipse cx="697.1" cy="468.6" rx="7" ry="1.6" fill="#3a4a9a" />
<ellipse cx="715.3" cy="476.3" rx="8.3" ry="2.9" fill="#7d0f0f" />
<ellipse cx="715.3" cy="474.7" rx="8.3" ry="2.7" fill="#e02a25" />
<ellipse cx="714.3" cy="473.7" rx="4.6" ry="0.9" fill="#f7b8b0" />
<ellipse cx="715.3" cy="483.5" rx="8.3" ry="2.9" fill="#7d0f0f" />
<ellipse cx="715.3" cy="481.9" rx="8.3" ry="2.7" fill="#e02a25" />
<ellipse cx="714.3" cy="480.9" rx="4.6" ry="0.9" fill="#f7b8b0" />
<ellipse cx="715.3" cy="490.7" rx="8.3" ry="2.9" fill="#7d0f0f" />
<ellipse cx="715.3" cy="489.1" rx="8.3" ry="2.7" fill="#e02a25" />
<ellipse cx="714.3" cy="488.1" rx="4.6" ry="0.9" fill="#f7b8b0" />
<ellipse cx="715.3" cy="497.9" rx="8.3" ry="2.9" fill="#7d0f0f" />
<ellipse cx="715.3" cy="496.3" rx="8.3" ry="2.7" fill="#e02a25" />
<ellipse cx="714.3" cy="495.3" rx="4.6" ry="0.9" fill="#f7b8b0" />
<ellipse cx="715.3" cy="500.2" rx="8.5" ry="3" fill="#0e0e0e" />
<rect x="706.8" y="496.7" width="17" height="3.5" fill="#0e0e0e" />
<ellipse cx="715.3" cy="471.2" rx="7" ry="1.6" fill="#3a4a9a" />
<polygon points="666,458.2 724.8,464.4 724.8,468.4 666,462" fill="#2b419e" />
<polygon points="724.8,467.2 747.3,469.2 747.3,509.4 724.8,506.6" fill="#2e3c9a" />
<polygon points="747.3,469.2 759.5,463.8 759.5,502.7 747.3,509.4" fill="#243084" />
<polygon points="724.8,467.2 738,462.2 759.5,463.8 747.3,469.2" fill="#3c4eaa" />
<rect x="727.4" y="474.2" width="7" height="4.2" fill="#c03a3a" />
<rect x="728.2" y="475.2" width="5.4" height="1" fill="#f2dada" />
<rect x="742.2" y="469.2" width="3.2" height="8.8" fill="#e9e9ee" />
<polygon points="663,457.5 742,466.5 761,459.5 690,452" fill="#c9ccd6" />
<rect x="694" y="456.5" width="8" height="6" fill="#1d2a6a" />
<rect x="710" y="459" width="8" height="6" fill="#1d2a6a" />
<rect x="668" y="453.5" width="4" height="4.4" fill="#1d2a6a" />
<rect x="741" y="459" width="3.6" height="7" fill="#1d2a6a" />
<polygon points="647.8,443 674.6,436.9 766,448.7 742.1,455.6" fill="#141414" />
<polygon points="647.8,443 742.1,455.6 742.1,459.4 647.8,446.8" fill="#223a92" />
<polygon points="742.1,455.6 766,448.7 766,452.2 742.1,459.4" fill="#1b2c78" />
<ellipse cx="628" cy="518" rx="40" ry="5" fill="#000" opacity="0.04"/>
<polygon points="586.1,513.6 654.6,504.6 667,509 599.1,520.7" fill="#262626" />
<polygon points="586.1,513.6 599.1,520.7 599.1,524 586.1,516.8" fill="#0e0e0e" />
<polygon points="599.1,520.7 667,509 667,512 599.1,524" fill="#161616" />
<polygon points="592,513.6 652,506 660,509 600.5,518.4" fill="#27479c" />
<polygon points="637.9,470.4 646,471 646,508.6 637.9,507.3" fill="#1b2e7c" />
<polygon points="646,471 654.6,469.6 654.6,506.4 646,508.6" fill="#2d55a8" />
<rect x="647.6" y="476" width="3.8" height="6.6" fill="#e4e8f2" />
<rect x="621.2" y="498.6" width="15.4" height="11.9" fill="#121212" />
<ellipse cx="628.9" cy="510.5" rx="7.7" ry="2" fill="#121212" />
<ellipse cx="628.6" cy="485.8" rx="8.2" ry="2.7" fill="#8a1212" />
<ellipse cx="628.6" cy="484.5" rx="8.2" ry="2.6" fill="#e22a26" />
<ellipse cx="627" cy="484.1" rx="5" ry="1" fill="#fbe5e2" />
<ellipse cx="628.6" cy="490.1" rx="8.2" ry="2.7" fill="#8a1212" />
<ellipse cx="628.6" cy="488.8" rx="8.2" ry="2.6" fill="#e22a26" />
<ellipse cx="627" cy="488.4" rx="5" ry="1" fill="#fbe5e2" />
<ellipse cx="628.6" cy="494.4" rx="8.2" ry="2.7" fill="#8a1212" />
<ellipse cx="628.6" cy="493.1" rx="8.2" ry="2.6" fill="#e22a26" />
<ellipse cx="627" cy="492.7" rx="5" ry="1" fill="#fbe5e2" />
<ellipse cx="628.6" cy="498.7" rx="8.2" ry="2.7" fill="#8a1212" />
<ellipse cx="628.6" cy="497.4" rx="8.2" ry="2.6" fill="#e22a26" />
<ellipse cx="627" cy="497" rx="5" ry="1" fill="#fbe5e2" />
<rect x="614.5" y="467.8" width="21.4" height="14.6" fill="#141414" />
<ellipse cx="625.2" cy="482.4" rx="10.7" ry="2.4" fill="#141414" />
<ellipse cx="625.2" cy="468.2" rx="10.7" ry="2.2" fill="#2a2a2a" />
<polygon points="598.4,474.5 607.1,476.4 607.1,514.6 598.4,510.8" fill="#1d2f80" />
<polygon points="607.1,476.4 621.2,475.2 621.2,513 607.1,514.6" fill="#2f5fb0" />
<polygon points="594.5,473.4 612,470.8 622.5,472.8 606.5,476" fill="#3b68bc" />
<rect x="604.4" y="479.2" width="2.8" height="10.4" fill="#eceef4" />
<rect x="603.6" y="488.6" width="4.6" height="1.8" fill="#f4f4f4" />
<rect x="604.6" y="470.2" width="4" height="3.4" fill="#222" />
<rect x="641.5" y="466.5" width="3.5" height="4.1" fill="#222" />
<polygon points="591,461 611.8,454.6 650,454.1 660.7,459.1 611.1,465.1" fill="#2c2c2c" />
<polygon points="591,461 611.1,465.1 611.1,469.2 591,465" fill="#0f0f0f" />
<polygon points="611.1,465.1 660.7,459.1 660.7,463 611.1,469.2" fill="#181818" />
<polygon points="596,460.9 612.5,455.8 648.5,455.3 656,459 611.6,463.8" fill="#3a3a3a" />
<line x1="603" y1="462.8" x2="611" y2="456" stroke="#555" stroke-width="0.5" />
<line x1="604" y1="456.6" x2="612" y2="462.6" stroke="#555" stroke-width="0.5" />
<line x1="612.5" y1="462.8" x2="620.5" y2="456" stroke="#555" stroke-width="0.5" />
<line x1="613.5" y1="456.6" x2="621.5" y2="462.6" stroke="#555" stroke-width="0.5" />
<line x1="622" y1="462.8" x2="630" y2="456" stroke="#555" stroke-width="0.5" />
<line x1="623" y1="456.6" x2="631" y2="462.6" stroke="#555" stroke-width="0.5" />
<line x1="631.5" y1="462.8" x2="639.5" y2="456" stroke="#555" stroke-width="0.5" />
<line x1="632.5" y1="456.6" x2="640.5" y2="462.6" stroke="#555" stroke-width="0.5" />
<line x1="641" y1="462.8" x2="649" y2="456" stroke="#555" stroke-width="0.5" />
<line x1="642" y1="456.6" x2="650" y2="462.6" stroke="#555" stroke-width="0.5" />
<text x="686.8" y="538.2" font-size="11.5" fill="#5e5456" text-anchor="middle" >*</text>
<text x="691.4 707.95 724.5 741.05" y="538.9" font-size="13.4" fill="#5e5456" font-family="'Liberation Sans', 'Noto Sans CJK SC', sans-serif">产品实物</text>
<g>
<g transform="translate(488.5 240.6)" fill="#e60012">
<path d="M-49 -16.5 A51.7 51.7 0 0 1 -1 -51.7 L-1.4 -56.6 A56 56 0 0 1 52.5 -19.5 L45.4 -13.8 Q35 -9 23.6 -5.1 Q14 -1.5 5.4 0.2 Q-5 2.5 -14.7 2.2 Q-25 1.5 -32.8 -2.8 Q-38 -6 -41.9 -10.8 Q-45 -14 -49 -16.5 Z" opacity="0.105"/>
<path d="M-56 -7.8 Q-51 -2 -44.9 2.2 Q-35 8 -24.8 9.3 Q-15 10.3 -4.7 8.6 Q5 6.5 15.4 4.2 Q25 1.8 34.9 0.6 Q43 -0.2 51.7 -1 A51.7 51.7 0 0 1 1.5 51.7 L1.3 56.5 A55 55 0 0 1 -54.9 9.3 Q-56.5 1 -56 -7.8 Z" opacity="0.09"/>
</g>
<g transform="translate(240.2 -36.8)" fill="#e60012">
<path d="M-49 -16.5 A51.7 51.7 0 0 1 -1 -51.7 L-1.4 -56.6 A56 56 0 0 1 52.5 -19.5 L45.4 -13.8 Q35 -9 23.6 -5.1 Q14 -1.5 5.4 0.2 Q-5 2.5 -14.7 2.2 Q-25 1.5 -32.8 -2.8 Q-38 -6 -41.9 -10.8 Q-45 -14 -49 -16.5 Z" opacity="0.105"/>
<path d="M-56 -7.8 Q-51 -2 -44.9 2.2 Q-35 8 -24.8 9.3 Q-15 10.3 -4.7 8.6 Q5 6.5 15.4 4.2 Q25 1.8 34.9 0.6 Q43 -0.2 51.7 -1 A51.7 51.7 0 0 1 1.5 51.7 L1.3 56.5 A55 55 0 0 1 -54.9 9.3 Q-56.5 1 -56 -7.8 Z" opacity="0.09"/>
</g>
<g transform="translate(739.1 518)" fill="#e60012">
<path d="M-49 -16.5 A51.7 51.7 0 0 1 -1 -51.7 L-1.4 -56.6 A56 56 0 0 1 52.5 -19.5 L45.4 -13.8 Q35 -9 23.6 -5.1 Q14 -1.5 5.4 0.2 Q-5 2.5 -14.7 2.2 Q-25 1.5 -32.8 -2.8 Q-38 -6 -41.9 -10.8 Q-45 -14 -49 -16.5 Z" opacity="0.105"/>
<path d="M-56 -7.8 Q-51 -2 -44.9 2.2 Q-35 8 -24.8 9.3 Q-15 10.3 -4.7 8.6 Q5 6.5 15.4 4.2 Q25 1.8 34.9 0.6 Q43 -0.2 51.7 -1 A51.7 51.7 0 0 1 1.5 51.7 L1.3 56.5 A55 55 0 0 1 -54.9 9.3 Q-56.5 1 -56 -7.8 Z" opacity="0.09"/>
</g>
</g>
</g>
</svg></body></html>
